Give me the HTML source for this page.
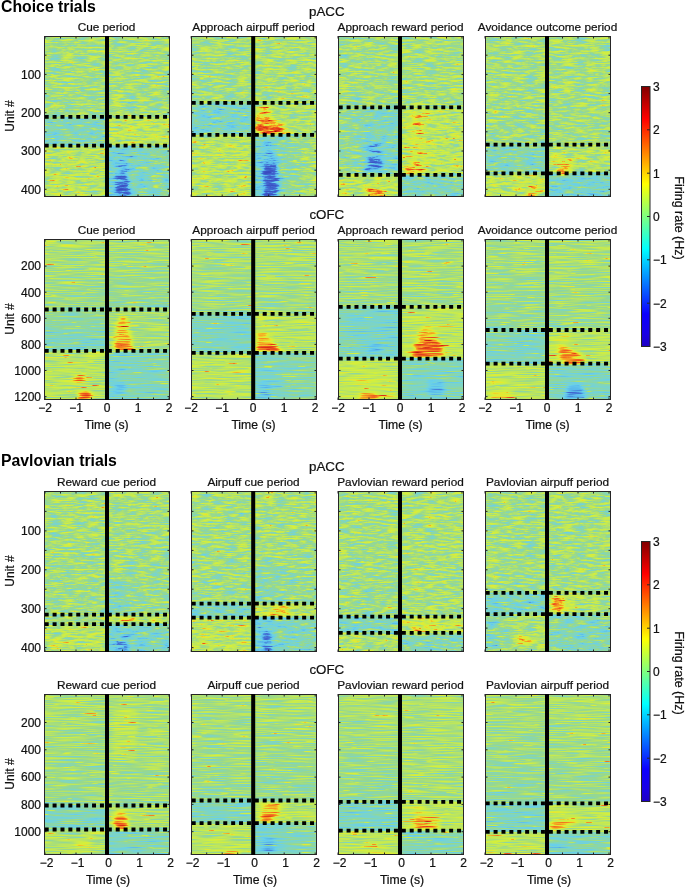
<!DOCTYPE html><html><head><meta charset="utf-8"><style>html,body{margin:0;padding:0;background:#fff;}svg{display:block;will-change:transform}text{font-family:"Liberation Sans",sans-serif;fill:#111;stroke:#111;stroke-width:0.22px}</style></head><body>
<svg width="685" height="888" viewBox="0 0 685 888">
<defs>
<filter id="hA" x="0" y="0" width="1" height="1" filterUnits="objectBoundingBox" color-interpolation-filters="sRGB">
<feGaussianBlur in="SourceGraphic" stdDeviation="2 0.8" result="s"/>
<feTurbulence type="fractalNoise" baseFrequency="0.08 0.55" numOctaves="4" seed="3" result="n"/>
<feColorMatrix in="n" type="matrix" values="1 0 0 0 0 1 0 0 0 0 1 0 0 0 0 0 0 0 0 1" result="nr"/>
<feComposite in="s" in2="nr" operator="arithmetic" k1="0" k2="1" k3="0.52" k4="-0.2600" result="v"/>
<feTurbulence type="fractalNoise" baseFrequency="0.12 0.8" numOctaves="2" seed="14" result="m"/>
<feColorMatrix in="m" type="matrix" values="1 0 0 0 0 1 0 0 0 0 1 0 0 0 0 0 0 0 0 1" result="mr"/>
<feComponentTransfer in="mr" result="sp"><feFuncR type="linear" slope="10" intercept="-7"/><feFuncG type="linear" slope="10" intercept="-7"/><feFuncB type="linear" slope="10" intercept="-7"/></feComponentTransfer>
<feComposite in="v" in2="sp" operator="arithmetic" k1="0" k2="1" k3="0.1" k4="0" result="v1"/>
<feColorMatrix in="v1" type="matrix" values="1 0 0 0 0 1 0 0 0 0 1 0 0 0 0 0 0 0 0 1" result="v2"/>
<feComponentTransfer in="v2"><feFuncR type="table" tableValues="0.227 0.231 0.235 0.239 0.243 0.249 0.255 0.261 0.267 0.280 0.294 0.324 0.353 0.368 0.382 0.397 0.412 0.431 0.451 0.471 0.490 0.515 0.539 0.564 0.588 0.625 0.663 0.700 0.737 0.761 0.784 0.808 0.831 0.875 0.918 0.939 0.961 0.954 0.947 0.940 0.933 0.906 0.878 0.851 0.824 0.745 0.667 0.588 0.510"/><feFuncG type="table" tableValues="0.294 0.307 0.320 0.332 0.345 0.367 0.388 0.410 0.431 0.490 0.549 0.637 0.725 0.748 0.771 0.793 0.816 0.821 0.825 0.830 0.835 0.838 0.841 0.844 0.847 0.861 0.875 0.888 0.902 0.912 0.922 0.931 0.941 0.922 0.902 0.784 0.667 0.583 0.500 0.417 0.333 0.289 0.245 0.201 0.157 0.118 0.078 0.039 0.000"/><feFuncB type="table" tableValues="0.753 0.761 0.769 0.776 0.784 0.796 0.808 0.820 0.831 0.851 0.871 0.896 0.922 0.923 0.924 0.925 0.925 0.888 0.851 0.814 0.776 0.725 0.673 0.621 0.569 0.520 0.471 0.422 0.373 0.338 0.304 0.270 0.235 0.212 0.188 0.163 0.137 0.134 0.131 0.128 0.125 0.116 0.106 0.096 0.086 0.065 0.043 0.022 0.000"/></feComponentTransfer>
</filter>
<filter id="hB" x="0" y="0" width="1" height="1" filterUnits="objectBoundingBox" color-interpolation-filters="sRGB">
<feGaussianBlur in="SourceGraphic" stdDeviation="2 0.8" result="s"/>
<feTurbulence type="fractalNoise" baseFrequency="0.035 0.8" numOctaves="2" seed="7" result="n"/>
<feColorMatrix in="n" type="matrix" values="1 0 0 0 0 1 0 0 0 0 1 0 0 0 0 0 0 0 0 1" result="nr"/>
<feComposite in="s" in2="nr" operator="arithmetic" k1="0" k2="1" k3="0.45" k4="-0.2250" result="v"/>
<feTurbulence type="fractalNoise" baseFrequency="0.05 0.9" numOctaves="2" seed="18" result="m"/>
<feColorMatrix in="m" type="matrix" values="1 0 0 0 0 1 0 0 0 0 1 0 0 0 0 0 0 0 0 1" result="mr"/>
<feComponentTransfer in="mr" result="sp"><feFuncR type="linear" slope="10" intercept="-7"/><feFuncG type="linear" slope="10" intercept="-7"/><feFuncB type="linear" slope="10" intercept="-7"/></feComponentTransfer>
<feComposite in="v" in2="sp" operator="arithmetic" k1="0" k2="1" k3="0.17" k4="0" result="v1"/>
<feColorMatrix in="v1" type="matrix" values="1 0 0 0 0 1 0 0 0 0 1 0 0 0 0 0 0 0 0 1" result="v2"/>
<feComponentTransfer in="v2"><feFuncR type="table" tableValues="0.227 0.231 0.235 0.239 0.243 0.249 0.255 0.261 0.267 0.280 0.294 0.324 0.353 0.368 0.382 0.397 0.412 0.431 0.451 0.471 0.490 0.515 0.539 0.564 0.588 0.625 0.663 0.700 0.737 0.761 0.784 0.808 0.831 0.875 0.918 0.939 0.961 0.954 0.947 0.940 0.933 0.906 0.878 0.851 0.824 0.745 0.667 0.588 0.510"/><feFuncG type="table" tableValues="0.294 0.307 0.320 0.332 0.345 0.367 0.388 0.410 0.431 0.490 0.549 0.637 0.725 0.748 0.771 0.793 0.816 0.821 0.825 0.830 0.835 0.838 0.841 0.844 0.847 0.861 0.875 0.888 0.902 0.912 0.922 0.931 0.941 0.922 0.902 0.784 0.667 0.583 0.500 0.417 0.333 0.289 0.245 0.201 0.157 0.118 0.078 0.039 0.000"/><feFuncB type="table" tableValues="0.753 0.761 0.769 0.776 0.784 0.796 0.808 0.820 0.831 0.851 0.871 0.896 0.922 0.923 0.924 0.925 0.925 0.888 0.851 0.814 0.776 0.725 0.673 0.621 0.569 0.520 0.471 0.422 0.373 0.338 0.304 0.270 0.235 0.212 0.188 0.163 0.137 0.134 0.131 0.128 0.125 0.116 0.106 0.096 0.086 0.065 0.043 0.022 0.000"/></feComponentTransfer>
</filter>
<linearGradient id="jet" x1="0" y1="1" x2="0" y2="0">
<stop offset="0.0000" stop-color="rgb(30,0,195)"/>
<stop offset="0.0500" stop-color="rgb(25,0,230)"/>
<stop offset="0.1250" stop-color="rgb(12,0,255)"/>
<stop offset="0.3750" stop-color="rgb(0,255,255)"/>
<stop offset="0.6250" stop-color="rgb(255,255,0)"/>
<stop offset="0.8750" stop-color="rgb(255,0,0)"/>
<stop offset="1.0000" stop-color="rgb(128,0,0)"/>
</linearGradient>
<clipPath id="c00"><rect x="45" y="37" width="124" height="159"/></clipPath>
<clipPath id="c01"><rect x="192" y="37" width="124" height="159"/></clipPath>
<clipPath id="c02"><rect x="339" y="37" width="124" height="159"/></clipPath>
<clipPath id="c03"><rect x="486" y="37" width="124" height="159"/></clipPath>
<clipPath id="c10"><rect x="45" y="240" width="124" height="159"/></clipPath>
<clipPath id="c11"><rect x="192" y="240" width="124" height="159"/></clipPath>
<clipPath id="c12"><rect x="339" y="240" width="124" height="159"/></clipPath>
<clipPath id="c13"><rect x="486" y="240" width="124" height="159"/></clipPath>
<clipPath id="c20"><rect x="45" y="492" width="124" height="159"/></clipPath>
<clipPath id="c21"><rect x="192" y="492" width="124" height="159"/></clipPath>
<clipPath id="c22"><rect x="339" y="492" width="124" height="159"/></clipPath>
<clipPath id="c23"><rect x="486" y="492" width="124" height="159"/></clipPath>
<clipPath id="c30"><rect x="45" y="695" width="124" height="159"/></clipPath>
<clipPath id="c31"><rect x="192" y="695" width="124" height="159"/></clipPath>
<clipPath id="c32"><rect x="339" y="695" width="124" height="159"/></clipPath>
<clipPath id="c33"><rect x="486" y="695" width="124" height="159"/></clipPath>
</defs>
<g clip-path="url(#c00)"><g filter="url(#hA)">
<rect x="36.0" y="30.0" width="71.0" height="86.8" fill="#888888"/>
<rect x="107.0" y="30.0" width="70.0" height="86.8" fill="#888888"/>
<rect x="36.0" y="116.8" width="71.0" height="28.9" fill="#717171"/>
<rect x="107.0" y="116.8" width="70.0" height="28.9" fill="#979797"/>
<rect x="36.0" y="145.7" width="71.0" height="56.3" fill="#939393"/>
<rect x="107.0" y="145.7" width="70.0" height="56.3" fill="url(#g0)"/>
<rect x="36.0" y="30.0" width="71.0" height="86.8" fill="url(#g1)"/>
<rect x="107.0" y="30.0" width="70.0" height="86.8" fill="url(#g2)"/>
<rect x="120.3" y="150.0" width="4.0" height="1.8" fill="#4e4e4e"/>
<rect x="119.6" y="152.0" width="5.2" height="1.9" fill="#4c4c4c"/>
<rect x="118.8" y="160.0" width="7.5" height="1.4" fill="#474747"/>
<rect x="119.5" y="161.5" width="7.1" height="1.7" fill="#3e3e3e"/>
<rect x="118.6" y="163.0" width="8.6" height="2.0" fill="#464646"/>
<rect x="118.8" y="165.2" width="7.5" height="1.5" fill="#3c3c3c"/>
<rect x="118.3" y="166.8" width="9.4" height="2.0" fill="#3a3a3a"/>
<rect x="118.1" y="168.8" width="10.1" height="1.8" fill="#3b3b3b"/>
<rect x="118.4" y="170.6" width="8.4" height="1.9" fill="#3f3f3f"/>
<rect x="117.6" y="172.2" width="9.5" height="1.4" fill="#323232"/>
<rect x="116.7" y="173.6" width="10.6" height="1.6" fill="#262626"/>
<rect x="116.8" y="175.2" width="11.4" height="1.8" fill="#2d2d2d"/>
<rect x="115.2" y="177.0" width="13.8" height="2.2" fill="#1f1f1f"/>
<rect x="115.2" y="179.4" width="12.2" height="2.0" fill="#252525"/>
<rect x="115.2" y="181.2" width="15.2" height="1.4" fill="#242424"/>
<rect x="114.5" y="182.7" width="15.1" height="1.6" fill="#252525"/>
<rect x="116.1" y="184.2" width="12.6" height="1.8" fill="#171717"/>
<rect x="114.4" y="185.9" width="15.6" height="1.4" fill="#272727"/>
<rect x="115.7" y="187.1" width="14.2" height="1.3" fill="#202020"/>
<rect x="114.5" y="188.3" width="15.8" height="1.6" fill="#141414"/>
<rect x="115.3" y="190.0" width="14.7" height="1.2" fill="#1c1c1c"/>
<rect x="116.1" y="191.1" width="12.3" height="1.8" fill="#1d1d1d"/>
<rect x="115.9" y="193.2" width="13.0" height="2.1" fill="#222222"/>
<rect x="116.1" y="195.6" width="13.2" height="2.1" fill="#181818"/>
</g></g>
<rect x="44.5" y="36.5" width="125" height="160" fill="none" stroke="#262626" stroke-width="1"/>
<line x1="45.0" y1="36" x2="45.0" y2="38.5" stroke="#262626" stroke-width="1"/>
<line x1="45.0" y1="197" x2="45.0" y2="194.5" stroke="#262626" stroke-width="1"/>
<line x1="60.5" y1="36" x2="60.5" y2="38.5" stroke="#262626" stroke-width="1"/>
<line x1="60.5" y1="197" x2="60.5" y2="194.5" stroke="#262626" stroke-width="1"/>
<line x1="76.0" y1="36" x2="76.0" y2="38.5" stroke="#262626" stroke-width="1"/>
<line x1="76.0" y1="197" x2="76.0" y2="194.5" stroke="#262626" stroke-width="1"/>
<line x1="91.5" y1="36" x2="91.5" y2="38.5" stroke="#262626" stroke-width="1"/>
<line x1="91.5" y1="197" x2="91.5" y2="194.5" stroke="#262626" stroke-width="1"/>
<line x1="107.0" y1="36" x2="107.0" y2="38.5" stroke="#262626" stroke-width="1"/>
<line x1="107.0" y1="197" x2="107.0" y2="194.5" stroke="#262626" stroke-width="1"/>
<line x1="122.5" y1="36" x2="122.5" y2="38.5" stroke="#262626" stroke-width="1"/>
<line x1="122.5" y1="197" x2="122.5" y2="194.5" stroke="#262626" stroke-width="1"/>
<line x1="138.0" y1="36" x2="138.0" y2="38.5" stroke="#262626" stroke-width="1"/>
<line x1="138.0" y1="197" x2="138.0" y2="194.5" stroke="#262626" stroke-width="1"/>
<line x1="153.5" y1="36" x2="153.5" y2="38.5" stroke="#262626" stroke-width="1"/>
<line x1="153.5" y1="197" x2="153.5" y2="194.5" stroke="#262626" stroke-width="1"/>
<line x1="169.0" y1="36" x2="169.0" y2="38.5" stroke="#262626" stroke-width="1"/>
<line x1="169.0" y1="197" x2="169.0" y2="194.5" stroke="#262626" stroke-width="1"/>
<line x1="44" y1="55.2" x2="46.5" y2="55.2" stroke="#262626" stroke-width="1"/>
<line x1="170" y1="55.2" x2="167.5" y2="55.2" stroke="#262626" stroke-width="1"/>
<line x1="44" y1="74.4" x2="46.5" y2="74.4" stroke="#262626" stroke-width="1"/>
<line x1="170" y1="74.4" x2="167.5" y2="74.4" stroke="#262626" stroke-width="1"/>
<line x1="44" y1="93.6" x2="46.5" y2="93.6" stroke="#262626" stroke-width="1"/>
<line x1="170" y1="93.6" x2="167.5" y2="93.6" stroke="#262626" stroke-width="1"/>
<line x1="44" y1="112.7" x2="46.5" y2="112.7" stroke="#262626" stroke-width="1"/>
<line x1="170" y1="112.7" x2="167.5" y2="112.7" stroke="#262626" stroke-width="1"/>
<line x1="44" y1="131.8" x2="46.5" y2="131.8" stroke="#262626" stroke-width="1"/>
<line x1="170" y1="131.8" x2="167.5" y2="131.8" stroke="#262626" stroke-width="1"/>
<line x1="44" y1="151.0" x2="46.5" y2="151.0" stroke="#262626" stroke-width="1"/>
<line x1="170" y1="151.0" x2="167.5" y2="151.0" stroke="#262626" stroke-width="1"/>
<line x1="44" y1="170.2" x2="46.5" y2="170.2" stroke="#262626" stroke-width="1"/>
<line x1="170" y1="170.2" x2="167.5" y2="170.2" stroke="#262626" stroke-width="1"/>
<line x1="44" y1="189.3" x2="46.5" y2="189.3" stroke="#262626" stroke-width="1"/>
<line x1="170" y1="189.3" x2="167.5" y2="189.3" stroke="#262626" stroke-width="1"/>
<rect x="105" y="36" width="4" height="161" fill="#000"/>
<line x1="44.7" y1="116.8" x2="169" y2="116.8" stroke="#000" stroke-width="3.8" stroke-dasharray="4 3.89"/>
<line x1="44.7" y1="145.7" x2="169" y2="145.7" stroke="#000" stroke-width="3.8" stroke-dasharray="4 3.89"/>
<text x="106.5" y="30.8" font-size="11.8" text-anchor="middle">Cue period</text>
<text x="41" y="78.7" font-size="12" text-anchor="end">100</text>
<text x="41" y="117.0" font-size="12" text-anchor="end">200</text>
<text x="41" y="155.3" font-size="12" text-anchor="end">300</text>
<text x="41" y="193.6" font-size="12" text-anchor="end">400</text>
<text x="14" y="116.0" font-size="12" text-anchor="middle" transform="rotate(-90 14 116.0)">Unit #</text>
<g clip-path="url(#c01)"><g filter="url(#hA)">
<rect x="183.0" y="30.0" width="70.2" height="72.9" fill="#888888"/>
<rect x="253.2" y="30.0" width="70.8" height="72.9" fill="#8c8c8c"/>
<rect x="183.0" y="102.9" width="70.2" height="31.9" fill="#6a6a6a"/>
<rect x="253.2" y="102.9" width="70.8" height="31.9" fill="#8e8e8e"/>
<rect x="183.0" y="134.8" width="70.2" height="67.2" fill="#939393"/>
<rect x="253.2" y="134.8" width="70.8" height="67.2" fill="url(#g3)"/>
<rect x="183.0" y="30.0" width="70.2" height="72.9" fill="url(#g1)"/>
<rect x="253.2" y="30.0" width="70.8" height="72.9" fill="url(#g4)"/>
<rect x="257.6" y="106.0" width="10.5" height="2.0" fill="#b4b4b4"/>
<rect x="258.5" y="107.7" width="9.5" height="1.5" fill="#b9b9b9"/>
<rect x="258.2" y="109.3" width="10.3" height="1.5" fill="#bbbbbb"/>
<rect x="257.8" y="110.7" width="10.9" height="1.7" fill="#bababa"/>
<rect x="255.9" y="112.2" width="13.5" height="1.7" fill="#bdbdbd"/>
<rect x="256.5" y="113.8" width="14.5" height="1.4" fill="#b7b7b7"/>
<rect x="255.5" y="115.1" width="15.8" height="2.2" fill="#bcbcbc"/>
<rect x="256.3" y="117.1" width="15.6" height="1.4" fill="#bbbbbb"/>
<rect x="254.6" y="118.4" width="18.1" height="1.3" fill="#c7c7c7"/>
<rect x="256.8" y="119.8" width="17.8" height="1.3" fill="#c0c0c0"/>
<rect x="255.4" y="120.9" width="21.2" height="2.1" fill="#cbcbcb"/>
<rect x="257.0" y="123.3" width="21.0" height="1.4" fill="#cccccc"/>
<rect x="256.8" y="124.6" width="27.1" height="1.9" fill="#cacaca"/>
<rect x="253.5" y="126.5" width="31.5" height="1.5" fill="#d1d1d1"/>
<rect x="256.0" y="128.0" width="27.5" height="1.6" fill="#dfdfdf"/>
<rect x="254.0" y="129.6" width="30.4" height="2.1" fill="#e0e0e0"/>
<rect x="255.4" y="131.9" width="34.6" height="1.1" fill="#cfcfcf"/>
<rect x="254.7" y="133.0" width="30.1" height="1.4" fill="#d2d2d2"/>
<rect x="263.8" y="145.0" width="10.2" height="1.5" fill="#585858"/>
<rect x="264.3" y="146.7" width="10.3" height="2.2" fill="#595959"/>
<rect x="263.7" y="148.7" width="11.3" height="2.2" fill="#515151"/>
<rect x="264.0" y="150.6" width="11.8" height="1.8" fill="#555555"/>
<rect x="264.0" y="152.6" width="11.5" height="1.3" fill="#4e4e4e"/>
<rect x="261.9" y="153.8" width="14.8" height="1.3" fill="#4e4e4e"/>
<rect x="262.7" y="155.2" width="14.2" height="1.6" fill="#494949"/>
<rect x="263.0" y="156.7" width="13.3" height="1.9" fill="#4a4a4a"/>
<rect x="261.1" y="158.5" width="16.3" height="1.5" fill="#484848"/>
<rect x="262.9" y="160.2" width="13.6" height="2.2" fill="#3d3d3d"/>
<rect x="261.3" y="162.7" width="17.8" height="2.1" fill="#303030"/>
<rect x="263.2" y="165.0" width="16.5" height="1.9" fill="#222222"/>
<rect x="263.3" y="166.6" width="15.0" height="2.0" fill="#191919"/>
<rect x="263.6" y="168.4" width="14.1" height="1.3" fill="#222222"/>
<rect x="263.5" y="169.8" width="14.6" height="1.9" fill="#202020"/>
<rect x="260.9" y="171.7" width="17.6" height="2.1" fill="#1c1c1c"/>
<rect x="262.3" y="173.6" width="17.1" height="1.2" fill="#202020"/>
<rect x="261.9" y="174.9" width="15.5" height="1.8" fill="#242424"/>
<rect x="263.3" y="176.9" width="15.9" height="2.1" fill="#191919"/>
<rect x="264.1" y="178.8" width="14.8" height="1.3" fill="#141414"/>
<rect x="263.1" y="180.2" width="14.3" height="2.1" fill="#232323"/>
<rect x="263.4" y="182.5" width="15.1" height="2.1" fill="#222222"/>
<rect x="262.6" y="184.9" width="17.6" height="2.1" fill="#121212"/>
<rect x="264.4" y="186.6" width="14.6" height="1.9" fill="#141414"/>
<rect x="264.3" y="188.8" width="14.2" height="2.0" fill="#232323"/>
<rect x="264.5" y="191.0" width="14.0" height="2.1" fill="#1b1b1b"/>
<rect x="263.1" y="192.9" width="13.9" height="2.0" fill="#212121"/>
<rect x="262.0" y="194.8" width="17.2" height="1.2" fill="#181818"/>
<rect x="264.2" y="196.0" width="15.2" height="2.2" fill="#232323"/>
</g></g>
<rect x="191.5" y="36.5" width="125" height="160" fill="none" stroke="#262626" stroke-width="1"/>
<line x1="191.2" y1="36" x2="191.2" y2="38.5" stroke="#262626" stroke-width="1"/>
<line x1="191.2" y1="197" x2="191.2" y2="194.5" stroke="#262626" stroke-width="1"/>
<line x1="206.7" y1="36" x2="206.7" y2="38.5" stroke="#262626" stroke-width="1"/>
<line x1="206.7" y1="197" x2="206.7" y2="194.5" stroke="#262626" stroke-width="1"/>
<line x1="222.2" y1="36" x2="222.2" y2="38.5" stroke="#262626" stroke-width="1"/>
<line x1="222.2" y1="197" x2="222.2" y2="194.5" stroke="#262626" stroke-width="1"/>
<line x1="237.7" y1="36" x2="237.7" y2="38.5" stroke="#262626" stroke-width="1"/>
<line x1="237.7" y1="197" x2="237.7" y2="194.5" stroke="#262626" stroke-width="1"/>
<line x1="253.2" y1="36" x2="253.2" y2="38.5" stroke="#262626" stroke-width="1"/>
<line x1="253.2" y1="197" x2="253.2" y2="194.5" stroke="#262626" stroke-width="1"/>
<line x1="268.7" y1="36" x2="268.7" y2="38.5" stroke="#262626" stroke-width="1"/>
<line x1="268.7" y1="197" x2="268.7" y2="194.5" stroke="#262626" stroke-width="1"/>
<line x1="284.2" y1="36" x2="284.2" y2="38.5" stroke="#262626" stroke-width="1"/>
<line x1="284.2" y1="197" x2="284.2" y2="194.5" stroke="#262626" stroke-width="1"/>
<line x1="299.7" y1="36" x2="299.7" y2="38.5" stroke="#262626" stroke-width="1"/>
<line x1="299.7" y1="197" x2="299.7" y2="194.5" stroke="#262626" stroke-width="1"/>
<line x1="315.2" y1="36" x2="315.2" y2="38.5" stroke="#262626" stroke-width="1"/>
<line x1="315.2" y1="197" x2="315.2" y2="194.5" stroke="#262626" stroke-width="1"/>
<line x1="191" y1="55.2" x2="193.5" y2="55.2" stroke="#262626" stroke-width="1"/>
<line x1="317" y1="55.2" x2="314.5" y2="55.2" stroke="#262626" stroke-width="1"/>
<line x1="191" y1="74.4" x2="193.5" y2="74.4" stroke="#262626" stroke-width="1"/>
<line x1="317" y1="74.4" x2="314.5" y2="74.4" stroke="#262626" stroke-width="1"/>
<line x1="191" y1="93.6" x2="193.5" y2="93.6" stroke="#262626" stroke-width="1"/>
<line x1="317" y1="93.6" x2="314.5" y2="93.6" stroke="#262626" stroke-width="1"/>
<line x1="191" y1="112.7" x2="193.5" y2="112.7" stroke="#262626" stroke-width="1"/>
<line x1="317" y1="112.7" x2="314.5" y2="112.7" stroke="#262626" stroke-width="1"/>
<line x1="191" y1="131.8" x2="193.5" y2="131.8" stroke="#262626" stroke-width="1"/>
<line x1="317" y1="131.8" x2="314.5" y2="131.8" stroke="#262626" stroke-width="1"/>
<line x1="191" y1="151.0" x2="193.5" y2="151.0" stroke="#262626" stroke-width="1"/>
<line x1="317" y1="151.0" x2="314.5" y2="151.0" stroke="#262626" stroke-width="1"/>
<line x1="191" y1="170.2" x2="193.5" y2="170.2" stroke="#262626" stroke-width="1"/>
<line x1="317" y1="170.2" x2="314.5" y2="170.2" stroke="#262626" stroke-width="1"/>
<line x1="191" y1="189.3" x2="193.5" y2="189.3" stroke="#262626" stroke-width="1"/>
<line x1="317" y1="189.3" x2="314.5" y2="189.3" stroke="#262626" stroke-width="1"/>
<rect x="251.2" y="36" width="4" height="161" fill="#000"/>
<line x1="191.7" y1="102.9" x2="316" y2="102.9" stroke="#000" stroke-width="3.8" stroke-dasharray="4 3.89"/>
<line x1="191.7" y1="134.8" x2="316" y2="134.8" stroke="#000" stroke-width="3.8" stroke-dasharray="4 3.89"/>
<text x="253.5" y="30.8" font-size="11.8" text-anchor="middle">Approach airpuff period</text>
<g clip-path="url(#c02)"><g filter="url(#hA)">
<rect x="330.0" y="30.0" width="70.0" height="77.3" fill="#888888"/>
<rect x="400.0" y="30.0" width="71.0" height="77.3" fill="#888888"/>
<rect x="330.0" y="107.3" width="70.0" height="67.6" fill="url(#g5)"/>
<rect x="400.0" y="107.3" width="71.0" height="67.6" fill="#959595"/>
<rect x="330.0" y="174.9" width="70.0" height="27.1" fill="#959595"/>
<rect x="400.0" y="174.9" width="71.0" height="27.1" fill="#6e6e6e"/>
<rect x="330.0" y="30.0" width="70.0" height="77.3" fill="url(#g6)"/>
<rect x="400.0" y="30.0" width="71.0" height="77.3" fill="url(#g7)"/>
<rect x="362.0" y="135.0" width="36.0" height="37.0" fill="url(#g8)"/>
<rect x="374.6" y="114.0" width="6.4" height="1.4" fill="#444444"/>
<rect x="375.4" y="115.4" width="5.3" height="1.9" fill="#3f3f3f"/>
<rect x="369.3" y="143.0" width="12.2" height="1.8" fill="#424242"/>
<rect x="369.0" y="145.0" width="12.7" height="1.0" fill="#363636"/>
<rect x="368.8" y="146.0" width="11.9" height="1.3" fill="#3a3a3a"/>
<rect x="368.5" y="150.0" width="12.4" height="1.9" fill="#343434"/>
<rect x="369.0" y="151.9" width="11.7" height="1.1" fill="#2c2c2c"/>
<rect x="366.8" y="157.0" width="15.6" height="2.1" fill="#2a2a2a"/>
<rect x="367.8" y="158.8" width="14.7" height="1.5" fill="#272727"/>
<rect x="368.1" y="160.3" width="13.8" height="1.6" fill="#222222"/>
<rect x="368.4" y="162.0" width="13.2" height="1.4" fill="#262626"/>
<rect x="367.2" y="163.3" width="16.2" height="2.0" fill="#2d2d2d"/>
<rect x="368.0" y="165.2" width="13.9" height="1.2" fill="#212121"/>
<rect x="366.6" y="166.3" width="15.6" height="1.6" fill="#242424"/>
<rect x="366.2" y="167.9" width="15.7" height="1.4" fill="#222222"/>
<rect x="408.0" y="110.0" width="18.4" height="1.3" fill="#a7a7a7"/>
<rect x="410.1" y="111.3" width="17.4" height="1.3" fill="#a4a4a4"/>
<rect x="407.5" y="112.7" width="21.5" height="1.9" fill="#a7a7a7"/>
<rect x="408.0" y="114.8" width="20.0" height="1.8" fill="#a6a6a6"/>
<rect x="407.9" y="116.6" width="20.2" height="2.1" fill="#a2a2a2"/>
<rect x="407.9" y="118.5" width="20.3" height="1.8" fill="#a5a5a5"/>
<rect x="408.7" y="120.3" width="17.6" height="1.3" fill="#a2a2a2"/>
<rect x="409.8" y="121.5" width="17.3" height="1.3" fill="#a5a5a5"/>
<rect x="408.3" y="122.7" width="19.0" height="1.6" fill="#a2a2a2"/>
<rect x="408.8" y="124.3" width="19.3" height="2.1" fill="#a7a7a7"/>
<rect x="409.6" y="126.6" width="16.0" height="1.6" fill="#a6a6a6"/>
<rect x="409.4" y="128.3" width="18.3" height="2.2" fill="#a4a4a4"/>
<rect x="409.2" y="130.5" width="17.2" height="1.4" fill="#a0a0a0"/>
<rect x="408.1" y="131.9" width="18.3" height="1.9" fill="#a4a4a4"/>
<rect x="409.7" y="133.5" width="16.2" height="1.8" fill="#a4a4a4"/>
<rect x="409.5" y="135.1" width="16.8" height="1.8" fill="#a0a0a0"/>
<rect x="409.7" y="136.9" width="17.8" height="1.4" fill="#a3a3a3"/>
<rect x="408.3" y="138.4" width="17.4" height="2.0" fill="#a0a0a0"/>
<rect x="409.4" y="140.5" width="18.0" height="2.2" fill="#a6a6a6"/>
<rect x="406.6" y="142.8" width="21.3" height="2.0" fill="#a0a0a0"/>
<rect x="408.3" y="144.5" width="19.7" height="1.3" fill="#a2a2a2"/>
<rect x="409.8" y="145.9" width="16.9" height="2.0" fill="#a6a6a6"/>
<rect x="406.4" y="147.6" width="21.4" height="2.0" fill="#a0a0a0"/>
<rect x="407.1" y="149.6" width="21.4" height="1.9" fill="#a5a5a5"/>
<rect x="407.3" y="151.2" width="19.5" height="1.9" fill="#a6a6a6"/>
<rect x="410.8" y="153.3" width="16.7" height="1.8" fill="#a6a6a6"/>
<rect x="409.0" y="155.0" width="18.1" height="1.6" fill="#a3a3a3"/>
<rect x="410.8" y="156.8" width="16.6" height="2.0" fill="#a5a5a5"/>
<rect x="409.3" y="159.0" width="18.4" height="1.9" fill="#a7a7a7"/>
<rect x="408.5" y="160.8" width="19.0" height="2.0" fill="#a3a3a3"/>
<rect x="408.4" y="162.9" width="20.8" height="1.5" fill="#a1a1a1"/>
<rect x="409.0" y="164.6" width="18.6" height="1.4" fill="#a3a3a3"/>
<rect x="408.8" y="165.8" width="17.0" height="2.1" fill="#a6a6a6"/>
<rect x="407.5" y="167.8" width="19.9" height="2.1" fill="#a0a0a0"/>
<rect x="408.0" y="170.1" width="20.0" height="1.3" fill="#a6a6a6"/>
<rect x="409.3" y="171.5" width="18.7" height="1.8" fill="#a1a1a1"/>
<rect x="418.7" y="113.0" width="8.9" height="1.9" fill="#b8b8b8"/>
<rect x="417.8" y="114.9" width="10.1" height="1.1" fill="#bababa"/>
<rect x="418.5" y="115.9" width="8.3" height="1.5" fill="#b3b3b3"/>
<rect x="412.4" y="124.0" width="8.5" height="2.0" fill="#b4b4b4"/>
<rect x="410.0" y="138.0" width="9.5" height="2.0" fill="#b0b0b0"/>
<rect x="410.2" y="139.8" width="8.5" height="1.4" fill="#b4b4b4"/>
<rect x="405.8" y="160.0" width="16.2" height="2.2" fill="#acacac"/>
<rect x="404.8" y="162.4" width="18.6" height="1.7" fill="#b3b3b3"/>
<rect x="407.7" y="164.1" width="15.0" height="1.4" fill="#b5b5b5"/>
<rect x="407.0" y="165.6" width="15.5" height="1.6" fill="#b2b2b2"/>
<rect x="407.3" y="167.0" width="16.7" height="1.8" fill="#b5b5b5"/>
<rect x="404.6" y="168.9" width="19.0" height="1.8" fill="#bdbdbd"/>
<rect x="406.4" y="170.7" width="19.1" height="1.6" fill="#bebebe"/>
<rect x="406.8" y="172.4" width="18.2" height="1.8" fill="#bfbfbf"/>
<rect x="365.8" y="181.0" width="16.9" height="1.9" fill="#a1a1a1"/>
<rect x="364.8" y="182.6" width="19.3" height="1.4" fill="#a2a2a2"/>
<rect x="367.9" y="189.0" width="14.8" height="1.9" fill="#cacaca"/>
<rect x="367.7" y="191.1" width="16.3" height="1.8" fill="#c7c7c7"/>
<rect x="366.6" y="192.9" width="18.0" height="1.8" fill="#c4c4c4"/>
<rect x="366.3" y="194.6" width="17.8" height="1.4" fill="#cacaca"/>
<rect x="367.0" y="195.8" width="17.9" height="1.9" fill="#d0d0d0"/>
</g></g>
<rect x="338.5" y="36.5" width="125" height="160" fill="none" stroke="#262626" stroke-width="1"/>
<line x1="338.0" y1="36" x2="338.0" y2="38.5" stroke="#262626" stroke-width="1"/>
<line x1="338.0" y1="197" x2="338.0" y2="194.5" stroke="#262626" stroke-width="1"/>
<line x1="353.5" y1="36" x2="353.5" y2="38.5" stroke="#262626" stroke-width="1"/>
<line x1="353.5" y1="197" x2="353.5" y2="194.5" stroke="#262626" stroke-width="1"/>
<line x1="369.0" y1="36" x2="369.0" y2="38.5" stroke="#262626" stroke-width="1"/>
<line x1="369.0" y1="197" x2="369.0" y2="194.5" stroke="#262626" stroke-width="1"/>
<line x1="384.5" y1="36" x2="384.5" y2="38.5" stroke="#262626" stroke-width="1"/>
<line x1="384.5" y1="197" x2="384.5" y2="194.5" stroke="#262626" stroke-width="1"/>
<line x1="400.0" y1="36" x2="400.0" y2="38.5" stroke="#262626" stroke-width="1"/>
<line x1="400.0" y1="197" x2="400.0" y2="194.5" stroke="#262626" stroke-width="1"/>
<line x1="415.5" y1="36" x2="415.5" y2="38.5" stroke="#262626" stroke-width="1"/>
<line x1="415.5" y1="197" x2="415.5" y2="194.5" stroke="#262626" stroke-width="1"/>
<line x1="431.0" y1="36" x2="431.0" y2="38.5" stroke="#262626" stroke-width="1"/>
<line x1="431.0" y1="197" x2="431.0" y2="194.5" stroke="#262626" stroke-width="1"/>
<line x1="446.5" y1="36" x2="446.5" y2="38.5" stroke="#262626" stroke-width="1"/>
<line x1="446.5" y1="197" x2="446.5" y2="194.5" stroke="#262626" stroke-width="1"/>
<line x1="462.0" y1="36" x2="462.0" y2="38.5" stroke="#262626" stroke-width="1"/>
<line x1="462.0" y1="197" x2="462.0" y2="194.5" stroke="#262626" stroke-width="1"/>
<line x1="338" y1="55.2" x2="340.5" y2="55.2" stroke="#262626" stroke-width="1"/>
<line x1="464" y1="55.2" x2="461.5" y2="55.2" stroke="#262626" stroke-width="1"/>
<line x1="338" y1="74.4" x2="340.5" y2="74.4" stroke="#262626" stroke-width="1"/>
<line x1="464" y1="74.4" x2="461.5" y2="74.4" stroke="#262626" stroke-width="1"/>
<line x1="338" y1="93.6" x2="340.5" y2="93.6" stroke="#262626" stroke-width="1"/>
<line x1="464" y1="93.6" x2="461.5" y2="93.6" stroke="#262626" stroke-width="1"/>
<line x1="338" y1="112.7" x2="340.5" y2="112.7" stroke="#262626" stroke-width="1"/>
<line x1="464" y1="112.7" x2="461.5" y2="112.7" stroke="#262626" stroke-width="1"/>
<line x1="338" y1="131.8" x2="340.5" y2="131.8" stroke="#262626" stroke-width="1"/>
<line x1="464" y1="131.8" x2="461.5" y2="131.8" stroke="#262626" stroke-width="1"/>
<line x1="338" y1="151.0" x2="340.5" y2="151.0" stroke="#262626" stroke-width="1"/>
<line x1="464" y1="151.0" x2="461.5" y2="151.0" stroke="#262626" stroke-width="1"/>
<line x1="338" y1="170.2" x2="340.5" y2="170.2" stroke="#262626" stroke-width="1"/>
<line x1="464" y1="170.2" x2="461.5" y2="170.2" stroke="#262626" stroke-width="1"/>
<line x1="338" y1="189.3" x2="340.5" y2="189.3" stroke="#262626" stroke-width="1"/>
<line x1="464" y1="189.3" x2="461.5" y2="189.3" stroke="#262626" stroke-width="1"/>
<rect x="398" y="36" width="4" height="161" fill="#000"/>
<line x1="338.7" y1="107.3" x2="463" y2="107.3" stroke="#000" stroke-width="3.8" stroke-dasharray="4 3.89"/>
<line x1="338.7" y1="174.9" x2="463" y2="174.9" stroke="#000" stroke-width="3.8" stroke-dasharray="4 3.89"/>
<text x="400.5" y="30.8" font-size="11.8" text-anchor="middle">Approach reward period</text>
<g clip-path="url(#c03)"><g filter="url(#hA)">
<rect x="477.0" y="30.0" width="70.0" height="114.7" fill="#888888"/>
<rect x="547.0" y="30.0" width="71.0" height="114.7" fill="#888888"/>
<rect x="477.0" y="144.7" width="70.0" height="28.6" fill="#737373"/>
<rect x="547.0" y="144.7" width="71.0" height="28.6" fill="#909090"/>
<rect x="477.0" y="173.3" width="70.0" height="28.7" fill="url(#g9)"/>
<rect x="547.0" y="173.3" width="71.0" height="28.7" fill="#666666"/>
<rect x="477.0" y="30.0" width="70.0" height="114.7" fill="url(#g10)"/>
<rect x="547.0" y="30.0" width="71.0" height="114.7" fill="url(#g2)"/>
<rect x="559.6" y="158.0" width="14.6" height="1.3" fill="#aaaaaa"/>
<rect x="558.1" y="159.2" width="18.4" height="1.3" fill="#aeaeae"/>
<rect x="557.6" y="160.7" width="16.0" height="2.2" fill="#ababab"/>
<rect x="558.9" y="163.0" width="14.4" height="1.7" fill="#afafaf"/>
<rect x="557.9" y="164.7" width="12.4" height="1.8" fill="#b5b5b5"/>
<rect x="558.0" y="166.5" width="12.0" height="1.9" fill="#c1c1c1"/>
<rect x="558.8" y="168.2" width="10.0" height="2.1" fill="#c4c4c4"/>
<rect x="558.6" y="170.3" width="9.1" height="1.5" fill="#cbcbcb"/>
<rect x="559.1" y="172.0" width="7.4" height="1.9" fill="#cacaca"/>
<rect x="559.3" y="173.8" width="6.9" height="2.0" fill="#cecece"/>
<rect x="528.5" y="180.0" width="7.4" height="2.1" fill="#a8a8a8"/>
<rect x="528.2" y="182.4" width="7.5" height="1.8" fill="#aeaeae"/>
<rect x="528.1" y="184.3" width="9.8" height="1.3" fill="#aeaeae"/>
<rect x="528.5" y="185.4" width="8.8" height="2.0" fill="#afafaf"/>
<rect x="527.3" y="187.3" width="10.6" height="2.0" fill="#b0b0b0"/>
<rect x="528.8" y="189.3" width="9.7" height="2.1" fill="#b4b4b4"/>
<rect x="529.0" y="191.2" width="9.9" height="2.0" fill="#b2b2b2"/>
<rect x="528.8" y="193.4" width="10.0" height="1.5" fill="#b8b8b8"/>
<rect x="528.1" y="194.9" width="11.2" height="1.1" fill="#b4b4b4"/>
<rect x="530.1" y="188.0" width="5.3" height="1.7" fill="#c3c3c3"/>
<rect x="529.6" y="189.7" width="6.1" height="1.4" fill="#c3c3c3"/>
</g></g>
<rect x="485.5" y="36.5" width="125" height="160" fill="none" stroke="#262626" stroke-width="1"/>
<line x1="485.0" y1="36" x2="485.0" y2="38.5" stroke="#262626" stroke-width="1"/>
<line x1="485.0" y1="197" x2="485.0" y2="194.5" stroke="#262626" stroke-width="1"/>
<line x1="500.5" y1="36" x2="500.5" y2="38.5" stroke="#262626" stroke-width="1"/>
<line x1="500.5" y1="197" x2="500.5" y2="194.5" stroke="#262626" stroke-width="1"/>
<line x1="516.0" y1="36" x2="516.0" y2="38.5" stroke="#262626" stroke-width="1"/>
<line x1="516.0" y1="197" x2="516.0" y2="194.5" stroke="#262626" stroke-width="1"/>
<line x1="531.5" y1="36" x2="531.5" y2="38.5" stroke="#262626" stroke-width="1"/>
<line x1="531.5" y1="197" x2="531.5" y2="194.5" stroke="#262626" stroke-width="1"/>
<line x1="547.0" y1="36" x2="547.0" y2="38.5" stroke="#262626" stroke-width="1"/>
<line x1="547.0" y1="197" x2="547.0" y2="194.5" stroke="#262626" stroke-width="1"/>
<line x1="562.5" y1="36" x2="562.5" y2="38.5" stroke="#262626" stroke-width="1"/>
<line x1="562.5" y1="197" x2="562.5" y2="194.5" stroke="#262626" stroke-width="1"/>
<line x1="578.0" y1="36" x2="578.0" y2="38.5" stroke="#262626" stroke-width="1"/>
<line x1="578.0" y1="197" x2="578.0" y2="194.5" stroke="#262626" stroke-width="1"/>
<line x1="593.5" y1="36" x2="593.5" y2="38.5" stroke="#262626" stroke-width="1"/>
<line x1="593.5" y1="197" x2="593.5" y2="194.5" stroke="#262626" stroke-width="1"/>
<line x1="609.0" y1="36" x2="609.0" y2="38.5" stroke="#262626" stroke-width="1"/>
<line x1="609.0" y1="197" x2="609.0" y2="194.5" stroke="#262626" stroke-width="1"/>
<line x1="485" y1="55.2" x2="487.5" y2="55.2" stroke="#262626" stroke-width="1"/>
<line x1="611" y1="55.2" x2="608.5" y2="55.2" stroke="#262626" stroke-width="1"/>
<line x1="485" y1="74.4" x2="487.5" y2="74.4" stroke="#262626" stroke-width="1"/>
<line x1="611" y1="74.4" x2="608.5" y2="74.4" stroke="#262626" stroke-width="1"/>
<line x1="485" y1="93.6" x2="487.5" y2="93.6" stroke="#262626" stroke-width="1"/>
<line x1="611" y1="93.6" x2="608.5" y2="93.6" stroke="#262626" stroke-width="1"/>
<line x1="485" y1="112.7" x2="487.5" y2="112.7" stroke="#262626" stroke-width="1"/>
<line x1="611" y1="112.7" x2="608.5" y2="112.7" stroke="#262626" stroke-width="1"/>
<line x1="485" y1="131.8" x2="487.5" y2="131.8" stroke="#262626" stroke-width="1"/>
<line x1="611" y1="131.8" x2="608.5" y2="131.8" stroke="#262626" stroke-width="1"/>
<line x1="485" y1="151.0" x2="487.5" y2="151.0" stroke="#262626" stroke-width="1"/>
<line x1="611" y1="151.0" x2="608.5" y2="151.0" stroke="#262626" stroke-width="1"/>
<line x1="485" y1="170.2" x2="487.5" y2="170.2" stroke="#262626" stroke-width="1"/>
<line x1="611" y1="170.2" x2="608.5" y2="170.2" stroke="#262626" stroke-width="1"/>
<line x1="485" y1="189.3" x2="487.5" y2="189.3" stroke="#262626" stroke-width="1"/>
<line x1="611" y1="189.3" x2="608.5" y2="189.3" stroke="#262626" stroke-width="1"/>
<rect x="545" y="36" width="4" height="161" fill="#000"/>
<line x1="485.7" y1="144.7" x2="610" y2="144.7" stroke="#000" stroke-width="3.8" stroke-dasharray="4 3.89"/>
<line x1="485.7" y1="173.3" x2="610" y2="173.3" stroke="#000" stroke-width="3.8" stroke-dasharray="4 3.89"/>
<text x="547.5" y="30.8" font-size="11.8" text-anchor="middle">Avoidance outcome period</text>
<g clip-path="url(#c10)"><g filter="url(#hB)">
<rect x="36.0" y="233.0" width="71.0" height="76.5" fill="#8a8a8a"/>
<rect x="107.0" y="233.0" width="70.0" height="76.5" fill="#868686"/>
<rect x="36.0" y="309.5" width="71.0" height="41.4" fill="#717171"/>
<rect x="107.0" y="309.5" width="70.0" height="41.4" fill="#888888"/>
<rect x="36.0" y="350.9" width="71.0" height="54.1" fill="#939393"/>
<rect x="107.0" y="350.9" width="70.0" height="54.1" fill="url(#g11)"/>
<rect x="36.0" y="233.0" width="71.0" height="76.5" fill="url(#g12)"/>
<rect x="107.0" y="233.0" width="70.0" height="76.5" fill="url(#g13)"/>
<rect x="30.0" y="310.0" width="77.0" height="18.0" fill="url(#g14)"/>
<rect x="80.0" y="338.0" width="27.0" height="13.0" fill="#666666"/>
<rect x="119.5" y="316.0" width="7.3" height="2.0" fill="#cdcdcd"/>
<rect x="119.1" y="318.3" width="7.7" height="1.7" fill="#c6c6c6"/>
<rect x="118.1" y="320.2" width="10.0" height="2.1" fill="#c2c2c2"/>
<rect x="116.5" y="322.4" width="12.1" height="1.6" fill="#bfbfbf"/>
<rect x="116.5" y="324.2" width="13.4" height="1.5" fill="#c2c2c2"/>
<rect x="116.2" y="325.9" width="13.0" height="2.1" fill="#bfbfbf"/>
<rect x="116.0" y="328.2" width="12.4" height="2.1" fill="#bfbfbf"/>
<rect x="114.7" y="330.5" width="16.3" height="2.2" fill="#b9b9b9"/>
<rect x="115.5" y="332.8" width="15.8" height="2.1" fill="#c5c5c5"/>
<rect x="114.9" y="334.6" width="15.7" height="2.0" fill="#bbbbbb"/>
<rect x="112.9" y="336.6" width="18.9" height="1.8" fill="#bcbcbc"/>
<rect x="115.9" y="338.5" width="16.5" height="1.8" fill="#bfbfbf"/>
<rect x="113.6" y="340.3" width="17.1" height="1.5" fill="#cbcbcb"/>
<rect x="114.7" y="342.0" width="17.0" height="1.9" fill="#c6c6c6"/>
<rect x="113.3" y="343.9" width="19.0" height="1.8" fill="#d0d0d0"/>
<rect x="113.0" y="345.6" width="19.9" height="1.6" fill="#cfcfcf"/>
<rect x="115.5" y="347.2" width="19.3" height="2.2" fill="#d4d4d4"/>
<rect x="113.8" y="349.2" width="22.5" height="1.8" fill="#cecece"/>
<rect x="73.5" y="376.0" width="10.5" height="1.7" fill="#cdcdcd"/>
<rect x="74.3" y="377.8" width="10.2" height="1.6" fill="#cbcbcb"/>
<rect x="74.0" y="379.4" width="11.2" height="1.9" fill="#cecece"/>
<rect x="77.6" y="391.0" width="12.0" height="1.5" fill="#d4d4d4"/>
<rect x="76.6" y="392.3" width="13.3" height="1.5" fill="#cbcbcb"/>
<rect x="78.4" y="393.8" width="12.7" height="2.2" fill="#d9d9d9"/>
<rect x="78.6" y="395.8" width="12.8" height="2.0" fill="#dadada"/>
<rect x="76.9" y="397.8" width="14.9" height="1.3" fill="#e1e1e1"/>
<rect x="118.1" y="368.0" width="7.5" height="1.9" fill="#484848"/>
<rect x="118.7" y="369.8" width="5.6" height="1.2" fill="#4c4c4c"/>
<rect x="114.7" y="384.0" width="11.6" height="1.9" fill="#3d3d3d"/>
<rect x="115.7" y="385.7" width="9.7" height="1.4" fill="#414141"/>
<rect x="115.6" y="387.3" width="9.8" height="1.4" fill="#3c3c3c"/>
<rect x="115.6" y="388.6" width="10.1" height="1.6" fill="#434343"/>
<rect x="113.2" y="390.2" width="12.6" height="1.3" fill="#404040"/>
<rect x="113.5" y="391.6" width="12.8" height="1.9" fill="#3c3c3c"/>
</g></g>
<rect x="44.5" y="239.5" width="125" height="160" fill="none" stroke="#262626" stroke-width="1"/>
<line x1="45.0" y1="239" x2="45.0" y2="241.5" stroke="#262626" stroke-width="1"/>
<line x1="45.0" y1="400" x2="45.0" y2="397.5" stroke="#262626" stroke-width="1"/>
<line x1="60.5" y1="239" x2="60.5" y2="241.5" stroke="#262626" stroke-width="1"/>
<line x1="60.5" y1="400" x2="60.5" y2="397.5" stroke="#262626" stroke-width="1"/>
<line x1="76.0" y1="239" x2="76.0" y2="241.5" stroke="#262626" stroke-width="1"/>
<line x1="76.0" y1="400" x2="76.0" y2="397.5" stroke="#262626" stroke-width="1"/>
<line x1="91.5" y1="239" x2="91.5" y2="241.5" stroke="#262626" stroke-width="1"/>
<line x1="91.5" y1="400" x2="91.5" y2="397.5" stroke="#262626" stroke-width="1"/>
<line x1="107.0" y1="239" x2="107.0" y2="241.5" stroke="#262626" stroke-width="1"/>
<line x1="107.0" y1="400" x2="107.0" y2="397.5" stroke="#262626" stroke-width="1"/>
<line x1="122.5" y1="239" x2="122.5" y2="241.5" stroke="#262626" stroke-width="1"/>
<line x1="122.5" y1="400" x2="122.5" y2="397.5" stroke="#262626" stroke-width="1"/>
<line x1="138.0" y1="239" x2="138.0" y2="241.5" stroke="#262626" stroke-width="1"/>
<line x1="138.0" y1="400" x2="138.0" y2="397.5" stroke="#262626" stroke-width="1"/>
<line x1="153.5" y1="239" x2="153.5" y2="241.5" stroke="#262626" stroke-width="1"/>
<line x1="153.5" y1="400" x2="153.5" y2="397.5" stroke="#262626" stroke-width="1"/>
<line x1="169.0" y1="239" x2="169.0" y2="241.5" stroke="#262626" stroke-width="1"/>
<line x1="169.0" y1="400" x2="169.0" y2="397.5" stroke="#262626" stroke-width="1"/>
<line x1="44" y1="266.1" x2="46.5" y2="266.1" stroke="#262626" stroke-width="1"/>
<line x1="170" y1="266.1" x2="167.5" y2="266.1" stroke="#262626" stroke-width="1"/>
<line x1="44" y1="292.2" x2="46.5" y2="292.2" stroke="#262626" stroke-width="1"/>
<line x1="170" y1="292.2" x2="167.5" y2="292.2" stroke="#262626" stroke-width="1"/>
<line x1="44" y1="318.3" x2="46.5" y2="318.3" stroke="#262626" stroke-width="1"/>
<line x1="170" y1="318.3" x2="167.5" y2="318.3" stroke="#262626" stroke-width="1"/>
<line x1="44" y1="344.4" x2="46.5" y2="344.4" stroke="#262626" stroke-width="1"/>
<line x1="170" y1="344.4" x2="167.5" y2="344.4" stroke="#262626" stroke-width="1"/>
<line x1="44" y1="370.5" x2="46.5" y2="370.5" stroke="#262626" stroke-width="1"/>
<line x1="170" y1="370.5" x2="167.5" y2="370.5" stroke="#262626" stroke-width="1"/>
<line x1="44" y1="396.6" x2="46.5" y2="396.6" stroke="#262626" stroke-width="1"/>
<line x1="170" y1="396.6" x2="167.5" y2="396.6" stroke="#262626" stroke-width="1"/>
<rect x="105" y="239" width="4" height="161" fill="#000"/>
<line x1="44.7" y1="309.5" x2="169" y2="309.5" stroke="#000" stroke-width="3.8" stroke-dasharray="4 3.89"/>
<line x1="44.7" y1="350.9" x2="169" y2="350.9" stroke="#000" stroke-width="3.8" stroke-dasharray="4 3.89"/>
<text x="106.5" y="233.8" font-size="11.8" text-anchor="middle">Cue period</text>
<text x="41" y="270.4" font-size="12" text-anchor="end">200</text>
<text x="41" y="296.5" font-size="12" text-anchor="end">400</text>
<text x="41" y="322.6" font-size="12" text-anchor="end">600</text>
<text x="41" y="348.7" font-size="12" text-anchor="end">800</text>
<text x="41" y="374.8" font-size="12" text-anchor="end">1000</text>
<text x="41" y="400.9" font-size="12" text-anchor="end">1200</text>
<text x="14" y="319.0" font-size="12" text-anchor="middle" transform="rotate(-90 14 319.0)">Unit #</text>
<text x="45.0" y="411.6" font-size="12" text-anchor="middle">−2</text>
<text x="76.0" y="411.6" font-size="12" text-anchor="middle">−1</text>
<text x="107.0" y="411.6" font-size="12" text-anchor="middle">0</text>
<text x="138.0" y="411.6" font-size="12" text-anchor="middle">1</text>
<text x="169.0" y="411.6" font-size="12" text-anchor="middle">2</text>
<text x="106.5" y="428.5" font-size="12.2" text-anchor="middle">Time (s)</text>
<g clip-path="url(#c11)"><g filter="url(#hB)">
<rect x="183.0" y="233.0" width="70.2" height="80.8" fill="#8a8a8a"/>
<rect x="253.2" y="233.0" width="70.8" height="80.8" fill="#8a8a8a"/>
<rect x="183.0" y="313.8" width="70.2" height="39.0" fill="url(#g15)"/>
<rect x="253.2" y="313.8" width="70.8" height="39.0" fill="#939393"/>
<rect x="183.0" y="352.8" width="70.2" height="52.2" fill="#939393"/>
<rect x="253.2" y="352.8" width="70.8" height="52.2" fill="url(#g16)"/>
<rect x="183.0" y="233.0" width="70.2" height="80.8" fill="url(#g12)"/>
<rect x="253.2" y="233.0" width="70.8" height="80.8" fill="url(#g17)"/>
<rect x="258.5" y="317.0" width="5.0" height="1.6" fill="#bfbfbf"/>
<rect x="258.2" y="318.8" width="5.4" height="1.2" fill="#c6c6c6"/>
<rect x="255.1" y="333.0" width="12.9" height="1.3" fill="#c7c7c7"/>
<rect x="255.4" y="334.2" width="12.0" height="1.6" fill="#c7c7c7"/>
<rect x="255.3" y="335.8" width="15.1" height="1.9" fill="#bebebe"/>
<rect x="256.5" y="337.8" width="14.3" height="1.4" fill="#c2c2c2"/>
<rect x="257.1" y="339.4" width="15.9" height="1.4" fill="#c8c8c8"/>
<rect x="257.8" y="340.7" width="15.6" height="2.1" fill="#c7c7c7"/>
<rect x="257.0" y="342.5" width="17.6" height="1.5" fill="#c8c8c8"/>
<rect x="256.0" y="343.8" width="18.6" height="2.0" fill="#cccccc"/>
<rect x="256.3" y="345.5" width="21.5" height="1.9" fill="#d3d3d3"/>
<rect x="257.0" y="347.6" width="20.0" height="1.4" fill="#dfdfdf"/>
<rect x="254.5" y="348.8" width="25.9" height="2.0" fill="#d7d7d7"/>
<rect x="258.3" y="382.0" width="11.2" height="1.3" fill="#4d4d4d"/>
<rect x="258.5" y="383.3" width="9.8" height="2.1" fill="#4e4e4e"/>
<rect x="258.2" y="385.1" width="11.7" height="1.5" fill="#505050"/>
<rect x="258.6" y="386.8" width="11.1" height="1.7" fill="#525252"/>
<rect x="258.5" y="388.6" width="11.8" height="2.1" fill="#4b4b4b"/>
<rect x="258.6" y="390.5" width="10.4" height="1.7" fill="#4d4d4d"/>
<rect x="258.7" y="392.1" width="11.0" height="1.3" fill="#4d4d4d"/>
<rect x="259.6" y="393.3" width="9.8" height="1.7" fill="#505050"/>
<rect x="257.9" y="394.8" width="12.3" height="1.9" fill="#4a4a4a"/>
</g></g>
<rect x="191.5" y="239.5" width="125" height="160" fill="none" stroke="#262626" stroke-width="1"/>
<line x1="191.2" y1="239" x2="191.2" y2="241.5" stroke="#262626" stroke-width="1"/>
<line x1="191.2" y1="400" x2="191.2" y2="397.5" stroke="#262626" stroke-width="1"/>
<line x1="206.7" y1="239" x2="206.7" y2="241.5" stroke="#262626" stroke-width="1"/>
<line x1="206.7" y1="400" x2="206.7" y2="397.5" stroke="#262626" stroke-width="1"/>
<line x1="222.2" y1="239" x2="222.2" y2="241.5" stroke="#262626" stroke-width="1"/>
<line x1="222.2" y1="400" x2="222.2" y2="397.5" stroke="#262626" stroke-width="1"/>
<line x1="237.7" y1="239" x2="237.7" y2="241.5" stroke="#262626" stroke-width="1"/>
<line x1="237.7" y1="400" x2="237.7" y2="397.5" stroke="#262626" stroke-width="1"/>
<line x1="253.2" y1="239" x2="253.2" y2="241.5" stroke="#262626" stroke-width="1"/>
<line x1="253.2" y1="400" x2="253.2" y2="397.5" stroke="#262626" stroke-width="1"/>
<line x1="268.7" y1="239" x2="268.7" y2="241.5" stroke="#262626" stroke-width="1"/>
<line x1="268.7" y1="400" x2="268.7" y2="397.5" stroke="#262626" stroke-width="1"/>
<line x1="284.2" y1="239" x2="284.2" y2="241.5" stroke="#262626" stroke-width="1"/>
<line x1="284.2" y1="400" x2="284.2" y2="397.5" stroke="#262626" stroke-width="1"/>
<line x1="299.7" y1="239" x2="299.7" y2="241.5" stroke="#262626" stroke-width="1"/>
<line x1="299.7" y1="400" x2="299.7" y2="397.5" stroke="#262626" stroke-width="1"/>
<line x1="315.2" y1="239" x2="315.2" y2="241.5" stroke="#262626" stroke-width="1"/>
<line x1="315.2" y1="400" x2="315.2" y2="397.5" stroke="#262626" stroke-width="1"/>
<line x1="191" y1="266.1" x2="193.5" y2="266.1" stroke="#262626" stroke-width="1"/>
<line x1="317" y1="266.1" x2="314.5" y2="266.1" stroke="#262626" stroke-width="1"/>
<line x1="191" y1="292.2" x2="193.5" y2="292.2" stroke="#262626" stroke-width="1"/>
<line x1="317" y1="292.2" x2="314.5" y2="292.2" stroke="#262626" stroke-width="1"/>
<line x1="191" y1="318.3" x2="193.5" y2="318.3" stroke="#262626" stroke-width="1"/>
<line x1="317" y1="318.3" x2="314.5" y2="318.3" stroke="#262626" stroke-width="1"/>
<line x1="191" y1="344.4" x2="193.5" y2="344.4" stroke="#262626" stroke-width="1"/>
<line x1="317" y1="344.4" x2="314.5" y2="344.4" stroke="#262626" stroke-width="1"/>
<line x1="191" y1="370.5" x2="193.5" y2="370.5" stroke="#262626" stroke-width="1"/>
<line x1="317" y1="370.5" x2="314.5" y2="370.5" stroke="#262626" stroke-width="1"/>
<line x1="191" y1="396.6" x2="193.5" y2="396.6" stroke="#262626" stroke-width="1"/>
<line x1="317" y1="396.6" x2="314.5" y2="396.6" stroke="#262626" stroke-width="1"/>
<rect x="251.2" y="239" width="4" height="161" fill="#000"/>
<line x1="191.7" y1="313.8" x2="316" y2="313.8" stroke="#000" stroke-width="3.8" stroke-dasharray="4 3.89"/>
<line x1="191.7" y1="352.8" x2="316" y2="352.8" stroke="#000" stroke-width="3.8" stroke-dasharray="4 3.89"/>
<text x="253.5" y="233.8" font-size="11.8" text-anchor="middle">Approach airpuff period</text>
<text x="191.2" y="411.6" font-size="12" text-anchor="middle">−2</text>
<text x="222.2" y="411.6" font-size="12" text-anchor="middle">−1</text>
<text x="253.2" y="411.6" font-size="12" text-anchor="middle">0</text>
<text x="284.2" y="411.6" font-size="12" text-anchor="middle">1</text>
<text x="315.2" y="411.6" font-size="12" text-anchor="middle">2</text>
<text x="253.5" y="428.5" font-size="12.2" text-anchor="middle">Time (s)</text>
<g clip-path="url(#c12)"><g filter="url(#hB)">
<rect x="330.0" y="233.0" width="70.0" height="73.9" fill="#8a8a8a"/>
<rect x="400.0" y="233.0" width="71.0" height="73.9" fill="#8a8a8a"/>
<rect x="330.0" y="306.9" width="70.0" height="51.8" fill="url(#g18)"/>
<rect x="400.0" y="306.9" width="71.0" height="51.8" fill="#979797"/>
<rect x="330.0" y="358.7" width="70.0" height="46.3" fill="#999999"/>
<rect x="400.0" y="358.7" width="71.0" height="46.3" fill="#6e6e6e"/>
<rect x="330.0" y="233.0" width="70.0" height="73.9" fill="url(#g19)"/>
<rect x="400.0" y="233.0" width="71.0" height="73.9" fill="url(#g20)"/>
<rect x="370.7" y="343.0" width="8.3" height="1.5" fill="#4d4d4d"/>
<rect x="370.2" y="344.6" width="10.4" height="2.1" fill="#4d4d4d"/>
<rect x="370.1" y="346.6" width="9.4" height="1.8" fill="#4f4f4f"/>
<rect x="369.6" y="348.2" width="10.2" height="2.0" fill="#4a4a4a"/>
<rect x="368.2" y="350.4" width="12.7" height="2.0" fill="#484848"/>
<rect x="423.1" y="325.0" width="9.5" height="1.2" fill="#b5b5b5"/>
<rect x="422.8" y="326.1" width="9.1" height="1.9" fill="#b3b3b3"/>
<rect x="421.4" y="328.2" width="11.4" height="1.8" fill="#bcbcbc"/>
<rect x="421.5" y="329.7" width="12.2" height="1.9" fill="#bababa"/>
<rect x="419.7" y="331.6" width="16.6" height="1.9" fill="#b8b8b8"/>
<rect x="419.5" y="333.3" width="17.6" height="1.4" fill="#bcbcbc"/>
<rect x="418.4" y="334.7" width="18.2" height="1.7" fill="#c3c3c3"/>
<rect x="419.2" y="336.2" width="18.4" height="1.6" fill="#c1c1c1"/>
<rect x="418.1" y="337.9" width="20.3" height="1.2" fill="#bdbdbd"/>
<rect x="417.6" y="339.1" width="19.5" height="1.4" fill="#c3c3c3"/>
<rect x="417.4" y="340.3" width="20.6" height="1.9" fill="#cacaca"/>
<rect x="413.5" y="342.2" width="26.4" height="2.0" fill="#cecece"/>
<rect x="414.8" y="344.0" width="28.8" height="1.2" fill="#cccccc"/>
<rect x="413.8" y="345.2" width="25.8" height="1.9" fill="#c5c5c5"/>
<rect x="415.0" y="347.0" width="28.7" height="2.0" fill="#d7d7d7"/>
<rect x="415.3" y="348.8" width="26.7" height="2.0" fill="#d3d3d3"/>
<rect x="413.4" y="350.8" width="28.7" height="1.5" fill="#d0d0d0"/>
<rect x="414.6" y="352.3" width="31.0" height="1.3" fill="#d6d6d6"/>
<rect x="410.9" y="353.7" width="33.2" height="2.0" fill="#d3d3d3"/>
<rect x="413.1" y="355.5" width="32.0" height="1.5" fill="#d5d5d5"/>
<rect x="353.0" y="378.0" width="40.4" height="1.7" fill="#a3a3a3"/>
<rect x="353.5" y="379.9" width="38.6" height="1.8" fill="#a7a7a7"/>
<rect x="356.2" y="381.7" width="32.0" height="1.4" fill="#a2a2a2"/>
<rect x="353.5" y="383.0" width="36.5" height="1.3" fill="#a3a3a3"/>
<rect x="358.6" y="384.1" width="31.6" height="1.9" fill="#a7a7a7"/>
<rect x="360.8" y="393.0" width="16.7" height="1.7" fill="#c8c8c8"/>
<rect x="359.3" y="394.9" width="20.1" height="1.6" fill="#c6c6c6"/>
<rect x="359.5" y="396.5" width="17.0" height="1.4" fill="#d3d3d3"/>
<rect x="357.8" y="397.8" width="20.6" height="1.9" fill="#cccccc"/>
<rect x="427.8" y="380.0" width="15.1" height="1.6" fill="#484848"/>
<rect x="429.0" y="381.5" width="14.3" height="1.6" fill="#434343"/>
<rect x="429.7" y="383.2" width="13.2" height="1.3" fill="#484848"/>
<rect x="428.3" y="384.6" width="16.9" height="1.9" fill="#474747"/>
<rect x="429.7" y="386.5" width="14.4" height="1.3" fill="#414141"/>
<rect x="427.1" y="387.8" width="17.0" height="1.8" fill="#444444"/>
<rect x="428.7" y="389.7" width="15.8" height="2.0" fill="#3f3f3f"/>
<rect x="428.0" y="391.8" width="15.7" height="1.7" fill="#424242"/>
<rect x="430.0" y="393.5" width="13.8" height="1.4" fill="#404040"/>
<rect x="430.1" y="394.8" width="13.1" height="1.3" fill="#444444"/>
</g></g>
<rect x="338.5" y="239.5" width="125" height="160" fill="none" stroke="#262626" stroke-width="1"/>
<line x1="338.0" y1="239" x2="338.0" y2="241.5" stroke="#262626" stroke-width="1"/>
<line x1="338.0" y1="400" x2="338.0" y2="397.5" stroke="#262626" stroke-width="1"/>
<line x1="353.5" y1="239" x2="353.5" y2="241.5" stroke="#262626" stroke-width="1"/>
<line x1="353.5" y1="400" x2="353.5" y2="397.5" stroke="#262626" stroke-width="1"/>
<line x1="369.0" y1="239" x2="369.0" y2="241.5" stroke="#262626" stroke-width="1"/>
<line x1="369.0" y1="400" x2="369.0" y2="397.5" stroke="#262626" stroke-width="1"/>
<line x1="384.5" y1="239" x2="384.5" y2="241.5" stroke="#262626" stroke-width="1"/>
<line x1="384.5" y1="400" x2="384.5" y2="397.5" stroke="#262626" stroke-width="1"/>
<line x1="400.0" y1="239" x2="400.0" y2="241.5" stroke="#262626" stroke-width="1"/>
<line x1="400.0" y1="400" x2="400.0" y2="397.5" stroke="#262626" stroke-width="1"/>
<line x1="415.5" y1="239" x2="415.5" y2="241.5" stroke="#262626" stroke-width="1"/>
<line x1="415.5" y1="400" x2="415.5" y2="397.5" stroke="#262626" stroke-width="1"/>
<line x1="431.0" y1="239" x2="431.0" y2="241.5" stroke="#262626" stroke-width="1"/>
<line x1="431.0" y1="400" x2="431.0" y2="397.5" stroke="#262626" stroke-width="1"/>
<line x1="446.5" y1="239" x2="446.5" y2="241.5" stroke="#262626" stroke-width="1"/>
<line x1="446.5" y1="400" x2="446.5" y2="397.5" stroke="#262626" stroke-width="1"/>
<line x1="462.0" y1="239" x2="462.0" y2="241.5" stroke="#262626" stroke-width="1"/>
<line x1="462.0" y1="400" x2="462.0" y2="397.5" stroke="#262626" stroke-width="1"/>
<line x1="338" y1="266.1" x2="340.5" y2="266.1" stroke="#262626" stroke-width="1"/>
<line x1="464" y1="266.1" x2="461.5" y2="266.1" stroke="#262626" stroke-width="1"/>
<line x1="338" y1="292.2" x2="340.5" y2="292.2" stroke="#262626" stroke-width="1"/>
<line x1="464" y1="292.2" x2="461.5" y2="292.2" stroke="#262626" stroke-width="1"/>
<line x1="338" y1="318.3" x2="340.5" y2="318.3" stroke="#262626" stroke-width="1"/>
<line x1="464" y1="318.3" x2="461.5" y2="318.3" stroke="#262626" stroke-width="1"/>
<line x1="338" y1="344.4" x2="340.5" y2="344.4" stroke="#262626" stroke-width="1"/>
<line x1="464" y1="344.4" x2="461.5" y2="344.4" stroke="#262626" stroke-width="1"/>
<line x1="338" y1="370.5" x2="340.5" y2="370.5" stroke="#262626" stroke-width="1"/>
<line x1="464" y1="370.5" x2="461.5" y2="370.5" stroke="#262626" stroke-width="1"/>
<line x1="338" y1="396.6" x2="340.5" y2="396.6" stroke="#262626" stroke-width="1"/>
<line x1="464" y1="396.6" x2="461.5" y2="396.6" stroke="#262626" stroke-width="1"/>
<rect x="398" y="239" width="4" height="161" fill="#000"/>
<line x1="338.7" y1="306.9" x2="463" y2="306.9" stroke="#000" stroke-width="3.8" stroke-dasharray="4 3.89"/>
<line x1="338.7" y1="358.7" x2="463" y2="358.7" stroke="#000" stroke-width="3.8" stroke-dasharray="4 3.89"/>
<text x="400.5" y="233.8" font-size="11.8" text-anchor="middle">Approach reward period</text>
<text x="338.0" y="411.6" font-size="12" text-anchor="middle">−2</text>
<text x="369.0" y="411.6" font-size="12" text-anchor="middle">−1</text>
<text x="400.0" y="411.6" font-size="12" text-anchor="middle">0</text>
<text x="431.0" y="411.6" font-size="12" text-anchor="middle">1</text>
<text x="462.0" y="411.6" font-size="12" text-anchor="middle">2</text>
<text x="400.5" y="428.5" font-size="12.2" text-anchor="middle">Time (s)</text>
<g clip-path="url(#c13)"><g filter="url(#hB)">
<rect x="477.0" y="233.0" width="70.0" height="97.0" fill="#8a8a8a"/>
<rect x="547.0" y="233.0" width="71.0" height="97.0" fill="#8a8a8a"/>
<rect x="477.0" y="330.0" width="70.0" height="33.7" fill="#6e6e6e"/>
<rect x="547.0" y="330.0" width="71.0" height="33.7" fill="#959595"/>
<rect x="477.0" y="363.7" width="70.0" height="41.3" fill="#959595"/>
<rect x="547.0" y="363.7" width="71.0" height="41.3" fill="#6c6c6c"/>
<rect x="477.0" y="233.0" width="70.0" height="97.0" fill="url(#g21)"/>
<rect x="547.0" y="233.0" width="71.0" height="97.0" fill="url(#g12)"/>
<rect x="559.2" y="335.0" width="10.5" height="2.0" fill="#bebebe"/>
<rect x="557.1" y="345.0" width="8.1" height="1.3" fill="#c5c5c5"/>
<rect x="558.0" y="346.4" width="9.5" height="2.0" fill="#c1c1c1"/>
<rect x="557.7" y="348.6" width="13.5" height="1.4" fill="#c8c8c8"/>
<rect x="559.3" y="350.0" width="14.9" height="1.7" fill="#c5c5c5"/>
<rect x="558.5" y="351.9" width="21.1" height="1.6" fill="#c7c7c7"/>
<rect x="560.2" y="353.3" width="20.4" height="1.6" fill="#cfcfcf"/>
<rect x="561.0" y="355.1" width="20.5" height="1.3" fill="#d2d2d2"/>
<rect x="560.1" y="356.4" width="26.1" height="1.3" fill="#cbcbcb"/>
<rect x="558.1" y="357.8" width="28.2" height="1.5" fill="#cfcfcf"/>
<rect x="561.4" y="359.5" width="22.8" height="1.4" fill="#cbcbcb"/>
<rect x="564.5" y="360.7" width="19.6" height="1.7" fill="#d5d5d5"/>
<rect x="562.5" y="362.2" width="21.0" height="0.8" fill="#e0e0e0"/>
<rect x="563.1" y="362.9" width="19.8" height="1.5" fill="#d5d5d5"/>
<rect x="495.7" y="380.0" width="12.0" height="1.6" fill="#a2a2a2"/>
<rect x="495.0" y="381.8" width="15.1" height="1.7" fill="#a1a1a1"/>
<rect x="491.8" y="390.0" width="17.9" height="1.5" fill="#aaaaaa"/>
<rect x="489.3" y="391.5" width="24.0" height="1.3" fill="#a7a7a7"/>
<rect x="491.0" y="392.8" width="19.7" height="1.4" fill="#b0b0b0"/>
<rect x="487.9" y="394.1" width="23.7" height="1.6" fill="#b7b7b7"/>
<rect x="490.8" y="395.5" width="23.3" height="1.7" fill="#b6b6b6"/>
<rect x="490.0" y="397.2" width="25.0" height="1.7" fill="#b7b7b7"/>
<rect x="568.4" y="385.0" width="15.2" height="2.0" fill="#3d3d3d"/>
<rect x="566.7" y="387.2" width="15.7" height="1.9" fill="#3b3b3b"/>
<rect x="566.1" y="389.3" width="18.6" height="1.4" fill="#353535"/>
<rect x="568.5" y="390.7" width="15.2" height="2.0" fill="#363636"/>
<rect x="566.1" y="392.6" width="16.7" height="1.2" fill="#2d2d2d"/>
<rect x="565.3" y="393.8" width="19.5" height="2.2" fill="#313131"/>
<rect x="565.5" y="395.8" width="22.6" height="1.6" fill="#3a3a3a"/>
<rect x="564.4" y="397.2" width="24.5" height="1.6" fill="#343434"/>
</g></g>
<rect x="485.5" y="239.5" width="125" height="160" fill="none" stroke="#262626" stroke-width="1"/>
<line x1="485.0" y1="239" x2="485.0" y2="241.5" stroke="#262626" stroke-width="1"/>
<line x1="485.0" y1="400" x2="485.0" y2="397.5" stroke="#262626" stroke-width="1"/>
<line x1="500.5" y1="239" x2="500.5" y2="241.5" stroke="#262626" stroke-width="1"/>
<line x1="500.5" y1="400" x2="500.5" y2="397.5" stroke="#262626" stroke-width="1"/>
<line x1="516.0" y1="239" x2="516.0" y2="241.5" stroke="#262626" stroke-width="1"/>
<line x1="516.0" y1="400" x2="516.0" y2="397.5" stroke="#262626" stroke-width="1"/>
<line x1="531.5" y1="239" x2="531.5" y2="241.5" stroke="#262626" stroke-width="1"/>
<line x1="531.5" y1="400" x2="531.5" y2="397.5" stroke="#262626" stroke-width="1"/>
<line x1="547.0" y1="239" x2="547.0" y2="241.5" stroke="#262626" stroke-width="1"/>
<line x1="547.0" y1="400" x2="547.0" y2="397.5" stroke="#262626" stroke-width="1"/>
<line x1="562.5" y1="239" x2="562.5" y2="241.5" stroke="#262626" stroke-width="1"/>
<line x1="562.5" y1="400" x2="562.5" y2="397.5" stroke="#262626" stroke-width="1"/>
<line x1="578.0" y1="239" x2="578.0" y2="241.5" stroke="#262626" stroke-width="1"/>
<line x1="578.0" y1="400" x2="578.0" y2="397.5" stroke="#262626" stroke-width="1"/>
<line x1="593.5" y1="239" x2="593.5" y2="241.5" stroke="#262626" stroke-width="1"/>
<line x1="593.5" y1="400" x2="593.5" y2="397.5" stroke="#262626" stroke-width="1"/>
<line x1="609.0" y1="239" x2="609.0" y2="241.5" stroke="#262626" stroke-width="1"/>
<line x1="609.0" y1="400" x2="609.0" y2="397.5" stroke="#262626" stroke-width="1"/>
<line x1="485" y1="266.1" x2="487.5" y2="266.1" stroke="#262626" stroke-width="1"/>
<line x1="611" y1="266.1" x2="608.5" y2="266.1" stroke="#262626" stroke-width="1"/>
<line x1="485" y1="292.2" x2="487.5" y2="292.2" stroke="#262626" stroke-width="1"/>
<line x1="611" y1="292.2" x2="608.5" y2="292.2" stroke="#262626" stroke-width="1"/>
<line x1="485" y1="318.3" x2="487.5" y2="318.3" stroke="#262626" stroke-width="1"/>
<line x1="611" y1="318.3" x2="608.5" y2="318.3" stroke="#262626" stroke-width="1"/>
<line x1="485" y1="344.4" x2="487.5" y2="344.4" stroke="#262626" stroke-width="1"/>
<line x1="611" y1="344.4" x2="608.5" y2="344.4" stroke="#262626" stroke-width="1"/>
<line x1="485" y1="370.5" x2="487.5" y2="370.5" stroke="#262626" stroke-width="1"/>
<line x1="611" y1="370.5" x2="608.5" y2="370.5" stroke="#262626" stroke-width="1"/>
<line x1="485" y1="396.6" x2="487.5" y2="396.6" stroke="#262626" stroke-width="1"/>
<line x1="611" y1="396.6" x2="608.5" y2="396.6" stroke="#262626" stroke-width="1"/>
<rect x="545" y="239" width="4" height="161" fill="#000"/>
<line x1="485.7" y1="330.0" x2="610" y2="330.0" stroke="#000" stroke-width="3.8" stroke-dasharray="4 3.89"/>
<line x1="485.7" y1="363.7" x2="610" y2="363.7" stroke="#000" stroke-width="3.8" stroke-dasharray="4 3.89"/>
<text x="547.5" y="233.8" font-size="11.8" text-anchor="middle">Avoidance outcome period</text>
<text x="485.0" y="411.6" font-size="12" text-anchor="middle">−2</text>
<text x="516.0" y="411.6" font-size="12" text-anchor="middle">−1</text>
<text x="547.0" y="411.6" font-size="12" text-anchor="middle">0</text>
<text x="578.0" y="411.6" font-size="12" text-anchor="middle">1</text>
<text x="609.0" y="411.6" font-size="12" text-anchor="middle">2</text>
<text x="547.5" y="428.5" font-size="12.2" text-anchor="middle">Time (s)</text>
<g clip-path="url(#c20)"><g filter="url(#hA)">
<rect x="36.0" y="485.0" width="71.0" height="129.7" fill="#888888"/>
<rect x="107.0" y="485.0" width="70.0" height="129.7" fill="#888888"/>
<rect x="36.0" y="614.7" width="71.0" height="9.4" fill="#868686"/>
<rect x="107.0" y="614.7" width="70.0" height="9.4" fill="#959595"/>
<rect x="36.0" y="624.1" width="71.0" height="32.9" fill="#939393"/>
<rect x="107.0" y="624.1" width="70.0" height="32.9" fill="url(#g22)"/>
<rect x="36.0" y="485.0" width="71.0" height="129.7" fill="url(#g1)"/>
<rect x="107.0" y="485.0" width="70.0" height="129.7" fill="url(#g23)"/>
<rect x="109.0" y="580.0" width="41.0" height="35.0" fill="url(#g24)"/>
<rect x="120.5" y="617.0" width="14.1" height="2.2" fill="#b9b9b9"/>
<rect x="119.2" y="619.2" width="15.1" height="2.0" fill="#b5b5b5"/>
<rect x="120.1" y="621.4" width="13.3" height="1.7" fill="#b6b6b6"/>
<rect x="120.5" y="635.0" width="7.4" height="1.8" fill="#414141"/>
<rect x="120.9" y="636.6" width="7.2" height="2.1" fill="#424242"/>
<rect x="116.4" y="642.0" width="10.7" height="2.1" fill="#353535"/>
<rect x="114.0" y="644.3" width="14.1" height="1.9" fill="#303030"/>
<rect x="116.7" y="646.4" width="11.0" height="1.2" fill="#333333"/>
<rect x="115.5" y="647.6" width="13.2" height="1.8" fill="#292929"/>
<rect x="115.3" y="649.3" width="13.3" height="1.7" fill="#313131"/>
</g></g>
<rect x="44.5" y="491.5" width="125" height="160" fill="none" stroke="#262626" stroke-width="1"/>
<line x1="45.0" y1="491" x2="45.0" y2="493.5" stroke="#262626" stroke-width="1"/>
<line x1="45.0" y1="652" x2="45.0" y2="649.5" stroke="#262626" stroke-width="1"/>
<line x1="60.5" y1="491" x2="60.5" y2="493.5" stroke="#262626" stroke-width="1"/>
<line x1="60.5" y1="652" x2="60.5" y2="649.5" stroke="#262626" stroke-width="1"/>
<line x1="76.0" y1="491" x2="76.0" y2="493.5" stroke="#262626" stroke-width="1"/>
<line x1="76.0" y1="652" x2="76.0" y2="649.5" stroke="#262626" stroke-width="1"/>
<line x1="91.5" y1="491" x2="91.5" y2="493.5" stroke="#262626" stroke-width="1"/>
<line x1="91.5" y1="652" x2="91.5" y2="649.5" stroke="#262626" stroke-width="1"/>
<line x1="107.0" y1="491" x2="107.0" y2="493.5" stroke="#262626" stroke-width="1"/>
<line x1="107.0" y1="652" x2="107.0" y2="649.5" stroke="#262626" stroke-width="1"/>
<line x1="122.5" y1="491" x2="122.5" y2="493.5" stroke="#262626" stroke-width="1"/>
<line x1="122.5" y1="652" x2="122.5" y2="649.5" stroke="#262626" stroke-width="1"/>
<line x1="138.0" y1="491" x2="138.0" y2="493.5" stroke="#262626" stroke-width="1"/>
<line x1="138.0" y1="652" x2="138.0" y2="649.5" stroke="#262626" stroke-width="1"/>
<line x1="153.5" y1="491" x2="153.5" y2="493.5" stroke="#262626" stroke-width="1"/>
<line x1="153.5" y1="652" x2="153.5" y2="649.5" stroke="#262626" stroke-width="1"/>
<line x1="169.0" y1="491" x2="169.0" y2="493.5" stroke="#262626" stroke-width="1"/>
<line x1="169.0" y1="652" x2="169.0" y2="649.5" stroke="#262626" stroke-width="1"/>
<line x1="44" y1="511.4" x2="46.5" y2="511.4" stroke="#262626" stroke-width="1"/>
<line x1="170" y1="511.4" x2="167.5" y2="511.4" stroke="#262626" stroke-width="1"/>
<line x1="44" y1="530.9" x2="46.5" y2="530.9" stroke="#262626" stroke-width="1"/>
<line x1="170" y1="530.9" x2="167.5" y2="530.9" stroke="#262626" stroke-width="1"/>
<line x1="44" y1="550.4" x2="46.5" y2="550.4" stroke="#262626" stroke-width="1"/>
<line x1="170" y1="550.4" x2="167.5" y2="550.4" stroke="#262626" stroke-width="1"/>
<line x1="44" y1="569.8" x2="46.5" y2="569.8" stroke="#262626" stroke-width="1"/>
<line x1="170" y1="569.8" x2="167.5" y2="569.8" stroke="#262626" stroke-width="1"/>
<line x1="44" y1="589.2" x2="46.5" y2="589.2" stroke="#262626" stroke-width="1"/>
<line x1="170" y1="589.2" x2="167.5" y2="589.2" stroke="#262626" stroke-width="1"/>
<line x1="44" y1="608.7" x2="46.5" y2="608.7" stroke="#262626" stroke-width="1"/>
<line x1="170" y1="608.7" x2="167.5" y2="608.7" stroke="#262626" stroke-width="1"/>
<line x1="44" y1="628.1" x2="46.5" y2="628.1" stroke="#262626" stroke-width="1"/>
<line x1="170" y1="628.1" x2="167.5" y2="628.1" stroke="#262626" stroke-width="1"/>
<line x1="44" y1="647.6" x2="46.5" y2="647.6" stroke="#262626" stroke-width="1"/>
<line x1="170" y1="647.6" x2="167.5" y2="647.6" stroke="#262626" stroke-width="1"/>
<rect x="105" y="491" width="4" height="161" fill="#000"/>
<line x1="44.7" y1="614.7" x2="169" y2="614.7" stroke="#000" stroke-width="3.8" stroke-dasharray="4 3.89"/>
<line x1="44.7" y1="624.1" x2="169" y2="624.1" stroke="#000" stroke-width="3.8" stroke-dasharray="4 3.89"/>
<text x="106.5" y="485.8" font-size="11.8" text-anchor="middle">Reward cue period</text>
<text x="41" y="535.2" font-size="12" text-anchor="end">100</text>
<text x="41" y="574.1" font-size="12" text-anchor="end">200</text>
<text x="41" y="613.0" font-size="12" text-anchor="end">300</text>
<text x="41" y="651.9" font-size="12" text-anchor="end">400</text>
<text x="14" y="571.0" font-size="12" text-anchor="middle" transform="rotate(-90 14 571.0)">Unit #</text>
<g clip-path="url(#c21)"><g filter="url(#hA)">
<rect x="183.0" y="485.0" width="70.2" height="118.6" fill="#888888"/>
<rect x="253.2" y="485.0" width="70.8" height="118.6" fill="#888888"/>
<rect x="183.0" y="603.6" width="70.2" height="14.0" fill="#6e6e6e"/>
<rect x="253.2" y="603.6" width="70.8" height="14.0" fill="#909090"/>
<rect x="183.0" y="617.6" width="70.2" height="39.4" fill="#959595"/>
<rect x="253.2" y="617.6" width="70.8" height="39.4" fill="url(#g25)"/>
<rect x="183.0" y="485.0" width="70.2" height="118.6" fill="url(#g1)"/>
<rect x="253.2" y="485.0" width="70.8" height="118.6" fill="url(#g26)"/>
<rect x="256.0" y="565.0" width="44.0" height="39.0" fill="url(#g27)"/>
<rect x="265.1" y="605.0" width="23.3" height="1.4" fill="#b4b4b4"/>
<rect x="263.0" y="606.4" width="24.5" height="1.8" fill="#b3b3b3"/>
<rect x="261.2" y="608.4" width="29.6" height="1.5" fill="#b0b0b0"/>
<rect x="261.1" y="610.1" width="29.4" height="1.7" fill="#afafaf"/>
<rect x="263.0" y="611.8" width="24.9" height="2.0" fill="#afafaf"/>
<rect x="262.2" y="613.9" width="29.1" height="2.1" fill="#b9b9b9"/>
<rect x="264.9" y="621.0" width="6.6" height="2.0" fill="#474747"/>
<rect x="265.7" y="622.8" width="5.7" height="2.0" fill="#454545"/>
<rect x="260.6" y="630.0" width="9.7" height="1.8" fill="#414141"/>
<rect x="261.6" y="632.0" width="9.5" height="1.9" fill="#393939"/>
<rect x="261.0" y="633.7" width="9.8" height="2.2" fill="#393939"/>
<rect x="261.1" y="635.8" width="10.2" height="2.1" fill="#3f3f3f"/>
<rect x="260.2" y="638.1" width="10.5" height="1.6" fill="#3e3e3e"/>
<rect x="261.8" y="639.6" width="8.9" height="1.4" fill="#3a3a3a"/>
<rect x="260.5" y="641.1" width="10.5" height="2.1" fill="#343434"/>
<rect x="261.6" y="643.3" width="9.1" height="1.3" fill="#363636"/>
<rect x="262.0" y="644.5" width="8.8" height="2.1" fill="#323232"/>
<rect x="261.6" y="646.7" width="10.2" height="2.0" fill="#3c3c3c"/>
<rect x="261.4" y="648.4" width="10.4" height="1.8" fill="#2f2f2f"/>
<rect x="261.5" y="650.2" width="10.3" height="1.8" fill="#363636"/>
</g></g>
<rect x="191.5" y="491.5" width="125" height="160" fill="none" stroke="#262626" stroke-width="1"/>
<line x1="191.2" y1="491" x2="191.2" y2="493.5" stroke="#262626" stroke-width="1"/>
<line x1="191.2" y1="652" x2="191.2" y2="649.5" stroke="#262626" stroke-width="1"/>
<line x1="206.7" y1="491" x2="206.7" y2="493.5" stroke="#262626" stroke-width="1"/>
<line x1="206.7" y1="652" x2="206.7" y2="649.5" stroke="#262626" stroke-width="1"/>
<line x1="222.2" y1="491" x2="222.2" y2="493.5" stroke="#262626" stroke-width="1"/>
<line x1="222.2" y1="652" x2="222.2" y2="649.5" stroke="#262626" stroke-width="1"/>
<line x1="237.7" y1="491" x2="237.7" y2="493.5" stroke="#262626" stroke-width="1"/>
<line x1="237.7" y1="652" x2="237.7" y2="649.5" stroke="#262626" stroke-width="1"/>
<line x1="253.2" y1="491" x2="253.2" y2="493.5" stroke="#262626" stroke-width="1"/>
<line x1="253.2" y1="652" x2="253.2" y2="649.5" stroke="#262626" stroke-width="1"/>
<line x1="268.7" y1="491" x2="268.7" y2="493.5" stroke="#262626" stroke-width="1"/>
<line x1="268.7" y1="652" x2="268.7" y2="649.5" stroke="#262626" stroke-width="1"/>
<line x1="284.2" y1="491" x2="284.2" y2="493.5" stroke="#262626" stroke-width="1"/>
<line x1="284.2" y1="652" x2="284.2" y2="649.5" stroke="#262626" stroke-width="1"/>
<line x1="299.7" y1="491" x2="299.7" y2="493.5" stroke="#262626" stroke-width="1"/>
<line x1="299.7" y1="652" x2="299.7" y2="649.5" stroke="#262626" stroke-width="1"/>
<line x1="315.2" y1="491" x2="315.2" y2="493.5" stroke="#262626" stroke-width="1"/>
<line x1="315.2" y1="652" x2="315.2" y2="649.5" stroke="#262626" stroke-width="1"/>
<line x1="191" y1="511.4" x2="193.5" y2="511.4" stroke="#262626" stroke-width="1"/>
<line x1="317" y1="511.4" x2="314.5" y2="511.4" stroke="#262626" stroke-width="1"/>
<line x1="191" y1="530.9" x2="193.5" y2="530.9" stroke="#262626" stroke-width="1"/>
<line x1="317" y1="530.9" x2="314.5" y2="530.9" stroke="#262626" stroke-width="1"/>
<line x1="191" y1="550.4" x2="193.5" y2="550.4" stroke="#262626" stroke-width="1"/>
<line x1="317" y1="550.4" x2="314.5" y2="550.4" stroke="#262626" stroke-width="1"/>
<line x1="191" y1="569.8" x2="193.5" y2="569.8" stroke="#262626" stroke-width="1"/>
<line x1="317" y1="569.8" x2="314.5" y2="569.8" stroke="#262626" stroke-width="1"/>
<line x1="191" y1="589.2" x2="193.5" y2="589.2" stroke="#262626" stroke-width="1"/>
<line x1="317" y1="589.2" x2="314.5" y2="589.2" stroke="#262626" stroke-width="1"/>
<line x1="191" y1="608.7" x2="193.5" y2="608.7" stroke="#262626" stroke-width="1"/>
<line x1="317" y1="608.7" x2="314.5" y2="608.7" stroke="#262626" stroke-width="1"/>
<line x1="191" y1="628.1" x2="193.5" y2="628.1" stroke="#262626" stroke-width="1"/>
<line x1="317" y1="628.1" x2="314.5" y2="628.1" stroke="#262626" stroke-width="1"/>
<line x1="191" y1="647.6" x2="193.5" y2="647.6" stroke="#262626" stroke-width="1"/>
<line x1="317" y1="647.6" x2="314.5" y2="647.6" stroke="#262626" stroke-width="1"/>
<rect x="251.2" y="491" width="4" height="161" fill="#000"/>
<line x1="191.7" y1="603.6" x2="316" y2="603.6" stroke="#000" stroke-width="3.8" stroke-dasharray="4 3.89"/>
<line x1="191.7" y1="617.6" x2="316" y2="617.6" stroke="#000" stroke-width="3.8" stroke-dasharray="4 3.89"/>
<text x="253.5" y="485.8" font-size="11.8" text-anchor="middle">Airpuff cue period</text>
<g clip-path="url(#c22)"><g filter="url(#hA)">
<rect x="330.0" y="485.0" width="70.0" height="131.7" fill="#888888"/>
<rect x="400.0" y="485.0" width="71.0" height="131.7" fill="#888888"/>
<rect x="330.0" y="616.7" width="70.0" height="16.1" fill="#6e6e6e"/>
<rect x="400.0" y="616.7" width="71.0" height="16.1" fill="#999999"/>
<rect x="330.0" y="632.8" width="70.0" height="24.2" fill="#8e8e8e"/>
<rect x="400.0" y="632.8" width="71.0" height="24.2" fill="#737373"/>
<rect x="330.0" y="485.0" width="70.0" height="131.7" fill="url(#g10)"/>
<rect x="400.0" y="485.0" width="71.0" height="131.7" fill="url(#g20)"/>
<rect x="410.3" y="620.0" width="30.8" height="1.7" fill="#a6a6a6"/>
<rect x="411.1" y="621.5" width="27.7" height="1.3" fill="#a6a6a6"/>
<rect x="410.8" y="622.8" width="30.0" height="1.5" fill="#acacac"/>
<rect x="411.7" y="624.5" width="27.1" height="1.3" fill="#a8a8a8"/>
<rect x="410.5" y="625.8" width="26.1" height="1.5" fill="#a8a8a8"/>
<rect x="413.3" y="627.2" width="26.1" height="1.8" fill="#a7a7a7"/>
<rect x="412.6" y="629.0" width="26.6" height="1.8" fill="#ababab"/>
<rect x="410.0" y="630.7" width="26.6" height="1.7" fill="#afafaf"/>
<rect x="411.6" y="632.4" width="25.8" height="2.2" fill="#a8a8a8"/>
<rect x="418.0" y="623.0" width="5.9" height="2.0" fill="#b8b8b8"/>
<rect x="412.0" y="628.0" width="8.4" height="1.6" fill="#bbbbbb"/>
<rect x="411.9" y="629.6" width="7.7" height="1.6" fill="#b9b9b9"/>
<rect x="381.7" y="607.0" width="10.1" height="1.7" fill="#b0b0b0"/>
<rect x="381.5" y="608.8" width="10.7" height="1.3" fill="#afafaf"/>
</g></g>
<rect x="338.5" y="491.5" width="125" height="160" fill="none" stroke="#262626" stroke-width="1"/>
<line x1="338.0" y1="491" x2="338.0" y2="493.5" stroke="#262626" stroke-width="1"/>
<line x1="338.0" y1="652" x2="338.0" y2="649.5" stroke="#262626" stroke-width="1"/>
<line x1="353.5" y1="491" x2="353.5" y2="493.5" stroke="#262626" stroke-width="1"/>
<line x1="353.5" y1="652" x2="353.5" y2="649.5" stroke="#262626" stroke-width="1"/>
<line x1="369.0" y1="491" x2="369.0" y2="493.5" stroke="#262626" stroke-width="1"/>
<line x1="369.0" y1="652" x2="369.0" y2="649.5" stroke="#262626" stroke-width="1"/>
<line x1="384.5" y1="491" x2="384.5" y2="493.5" stroke="#262626" stroke-width="1"/>
<line x1="384.5" y1="652" x2="384.5" y2="649.5" stroke="#262626" stroke-width="1"/>
<line x1="400.0" y1="491" x2="400.0" y2="493.5" stroke="#262626" stroke-width="1"/>
<line x1="400.0" y1="652" x2="400.0" y2="649.5" stroke="#262626" stroke-width="1"/>
<line x1="415.5" y1="491" x2="415.5" y2="493.5" stroke="#262626" stroke-width="1"/>
<line x1="415.5" y1="652" x2="415.5" y2="649.5" stroke="#262626" stroke-width="1"/>
<line x1="431.0" y1="491" x2="431.0" y2="493.5" stroke="#262626" stroke-width="1"/>
<line x1="431.0" y1="652" x2="431.0" y2="649.5" stroke="#262626" stroke-width="1"/>
<line x1="446.5" y1="491" x2="446.5" y2="493.5" stroke="#262626" stroke-width="1"/>
<line x1="446.5" y1="652" x2="446.5" y2="649.5" stroke="#262626" stroke-width="1"/>
<line x1="462.0" y1="491" x2="462.0" y2="493.5" stroke="#262626" stroke-width="1"/>
<line x1="462.0" y1="652" x2="462.0" y2="649.5" stroke="#262626" stroke-width="1"/>
<line x1="338" y1="511.4" x2="340.5" y2="511.4" stroke="#262626" stroke-width="1"/>
<line x1="464" y1="511.4" x2="461.5" y2="511.4" stroke="#262626" stroke-width="1"/>
<line x1="338" y1="530.9" x2="340.5" y2="530.9" stroke="#262626" stroke-width="1"/>
<line x1="464" y1="530.9" x2="461.5" y2="530.9" stroke="#262626" stroke-width="1"/>
<line x1="338" y1="550.4" x2="340.5" y2="550.4" stroke="#262626" stroke-width="1"/>
<line x1="464" y1="550.4" x2="461.5" y2="550.4" stroke="#262626" stroke-width="1"/>
<line x1="338" y1="569.8" x2="340.5" y2="569.8" stroke="#262626" stroke-width="1"/>
<line x1="464" y1="569.8" x2="461.5" y2="569.8" stroke="#262626" stroke-width="1"/>
<line x1="338" y1="589.2" x2="340.5" y2="589.2" stroke="#262626" stroke-width="1"/>
<line x1="464" y1="589.2" x2="461.5" y2="589.2" stroke="#262626" stroke-width="1"/>
<line x1="338" y1="608.7" x2="340.5" y2="608.7" stroke="#262626" stroke-width="1"/>
<line x1="464" y1="608.7" x2="461.5" y2="608.7" stroke="#262626" stroke-width="1"/>
<line x1="338" y1="628.1" x2="340.5" y2="628.1" stroke="#262626" stroke-width="1"/>
<line x1="464" y1="628.1" x2="461.5" y2="628.1" stroke="#262626" stroke-width="1"/>
<line x1="338" y1="647.6" x2="340.5" y2="647.6" stroke="#262626" stroke-width="1"/>
<line x1="464" y1="647.6" x2="461.5" y2="647.6" stroke="#262626" stroke-width="1"/>
<rect x="398" y="491" width="4" height="161" fill="#000"/>
<line x1="338.7" y1="616.7" x2="463" y2="616.7" stroke="#000" stroke-width="3.8" stroke-dasharray="4 3.89"/>
<line x1="338.7" y1="632.8" x2="463" y2="632.8" stroke="#000" stroke-width="3.8" stroke-dasharray="4 3.89"/>
<text x="400.5" y="485.8" font-size="11.8" text-anchor="middle">Pavlovian reward period</text>
<g clip-path="url(#c23)"><g filter="url(#hA)">
<rect x="477.0" y="485.0" width="70.0" height="107.8" fill="#888888"/>
<rect x="547.0" y="485.0" width="71.0" height="107.8" fill="#888888"/>
<rect x="477.0" y="592.8" width="70.0" height="21.3" fill="#6c6c6c"/>
<rect x="547.0" y="592.8" width="71.0" height="21.3" fill="#8c8c8c"/>
<rect x="477.0" y="614.1" width="70.0" height="42.9" fill="url(#g28)"/>
<rect x="547.0" y="614.1" width="71.0" height="42.9" fill="#717171"/>
<rect x="477.0" y="485.0" width="70.0" height="107.8" fill="url(#g6)"/>
<rect x="547.0" y="485.0" width="71.0" height="107.8" fill="url(#g2)"/>
<rect x="550.0" y="594.0" width="28.0" height="19.0" fill="url(#g29)"/>
<rect x="552.5" y="597.0" width="11.1" height="2.1" fill="#bcbcbc"/>
<rect x="553.7" y="599.1" width="9.2" height="1.2" fill="#c1c1c1"/>
<rect x="553.1" y="600.4" width="10.4" height="1.8" fill="#c5c5c5"/>
<rect x="552.7" y="602.0" width="11.1" height="2.2" fill="#c5c5c5"/>
<rect x="552.8" y="604.4" width="10.9" height="1.7" fill="#d1d1d1"/>
<rect x="553.0" y="606.1" width="11.2" height="1.9" fill="#cdcdcd"/>
<rect x="554.5" y="608.1" width="7.9" height="1.9" fill="#cccccc"/>
<rect x="554.3" y="610.1" width="8.9" height="0.9" fill="#c3c3c3"/>
<rect x="554.5" y="610.9" width="8.8" height="1.8" fill="#bbbbbb"/>
<rect x="515.7" y="637.0" width="17.0" height="1.2" fill="#b2b2b2"/>
<rect x="518.1" y="638.2" width="14.0" height="1.4" fill="#c5c5c5"/>
<rect x="519.0" y="639.7" width="11.6" height="2.1" fill="#c8c8c8"/>
<rect x="519.0" y="641.6" width="12.8" height="1.5" fill="#c5c5c5"/>
<rect x="518.3" y="643.0" width="13.2" height="1.0" fill="#c5c5c5"/>
<rect x="487.2" y="621.0" width="9.9" height="1.8" fill="#4b4b4b"/>
<rect x="488.3" y="622.7" width="8.6" height="1.8" fill="#494949"/>
<rect x="486.8" y="635.0" width="10.0" height="1.4" fill="#414141"/>
<rect x="487.2" y="636.6" width="8.8" height="2.0" fill="#3c3c3c"/>
<rect x="488.4" y="644.0" width="10.3" height="2.0" fill="#3f3f3f"/>
<rect x="487.8" y="645.9" width="10.0" height="1.5" fill="#444444"/>
</g></g>
<rect x="485.5" y="491.5" width="125" height="160" fill="none" stroke="#262626" stroke-width="1"/>
<line x1="485.0" y1="491" x2="485.0" y2="493.5" stroke="#262626" stroke-width="1"/>
<line x1="485.0" y1="652" x2="485.0" y2="649.5" stroke="#262626" stroke-width="1"/>
<line x1="500.5" y1="491" x2="500.5" y2="493.5" stroke="#262626" stroke-width="1"/>
<line x1="500.5" y1="652" x2="500.5" y2="649.5" stroke="#262626" stroke-width="1"/>
<line x1="516.0" y1="491" x2="516.0" y2="493.5" stroke="#262626" stroke-width="1"/>
<line x1="516.0" y1="652" x2="516.0" y2="649.5" stroke="#262626" stroke-width="1"/>
<line x1="531.5" y1="491" x2="531.5" y2="493.5" stroke="#262626" stroke-width="1"/>
<line x1="531.5" y1="652" x2="531.5" y2="649.5" stroke="#262626" stroke-width="1"/>
<line x1="547.0" y1="491" x2="547.0" y2="493.5" stroke="#262626" stroke-width="1"/>
<line x1="547.0" y1="652" x2="547.0" y2="649.5" stroke="#262626" stroke-width="1"/>
<line x1="562.5" y1="491" x2="562.5" y2="493.5" stroke="#262626" stroke-width="1"/>
<line x1="562.5" y1="652" x2="562.5" y2="649.5" stroke="#262626" stroke-width="1"/>
<line x1="578.0" y1="491" x2="578.0" y2="493.5" stroke="#262626" stroke-width="1"/>
<line x1="578.0" y1="652" x2="578.0" y2="649.5" stroke="#262626" stroke-width="1"/>
<line x1="593.5" y1="491" x2="593.5" y2="493.5" stroke="#262626" stroke-width="1"/>
<line x1="593.5" y1="652" x2="593.5" y2="649.5" stroke="#262626" stroke-width="1"/>
<line x1="609.0" y1="491" x2="609.0" y2="493.5" stroke="#262626" stroke-width="1"/>
<line x1="609.0" y1="652" x2="609.0" y2="649.5" stroke="#262626" stroke-width="1"/>
<line x1="485" y1="511.4" x2="487.5" y2="511.4" stroke="#262626" stroke-width="1"/>
<line x1="611" y1="511.4" x2="608.5" y2="511.4" stroke="#262626" stroke-width="1"/>
<line x1="485" y1="530.9" x2="487.5" y2="530.9" stroke="#262626" stroke-width="1"/>
<line x1="611" y1="530.9" x2="608.5" y2="530.9" stroke="#262626" stroke-width="1"/>
<line x1="485" y1="550.4" x2="487.5" y2="550.4" stroke="#262626" stroke-width="1"/>
<line x1="611" y1="550.4" x2="608.5" y2="550.4" stroke="#262626" stroke-width="1"/>
<line x1="485" y1="569.8" x2="487.5" y2="569.8" stroke="#262626" stroke-width="1"/>
<line x1="611" y1="569.8" x2="608.5" y2="569.8" stroke="#262626" stroke-width="1"/>
<line x1="485" y1="589.2" x2="487.5" y2="589.2" stroke="#262626" stroke-width="1"/>
<line x1="611" y1="589.2" x2="608.5" y2="589.2" stroke="#262626" stroke-width="1"/>
<line x1="485" y1="608.7" x2="487.5" y2="608.7" stroke="#262626" stroke-width="1"/>
<line x1="611" y1="608.7" x2="608.5" y2="608.7" stroke="#262626" stroke-width="1"/>
<line x1="485" y1="628.1" x2="487.5" y2="628.1" stroke="#262626" stroke-width="1"/>
<line x1="611" y1="628.1" x2="608.5" y2="628.1" stroke="#262626" stroke-width="1"/>
<line x1="485" y1="647.6" x2="487.5" y2="647.6" stroke="#262626" stroke-width="1"/>
<line x1="611" y1="647.6" x2="608.5" y2="647.6" stroke="#262626" stroke-width="1"/>
<rect x="545" y="491" width="4" height="161" fill="#000"/>
<line x1="485.7" y1="592.8" x2="610" y2="592.8" stroke="#000" stroke-width="3.8" stroke-dasharray="4 3.89"/>
<line x1="485.7" y1="614.1" x2="610" y2="614.1" stroke="#000" stroke-width="3.8" stroke-dasharray="4 3.89"/>
<text x="547.5" y="485.8" font-size="11.8" text-anchor="middle">Pavlovian airpuff period</text>
<g clip-path="url(#c30)"><g filter="url(#hB)">
<rect x="36.0" y="688.0" width="71.0" height="117.5" fill="#8a8a8a"/>
<rect x="107.0" y="688.0" width="70.0" height="117.5" fill="url(#g30)"/>
<rect x="36.0" y="805.5" width="71.0" height="24.0" fill="#6e6e6e"/>
<rect x="107.0" y="805.5" width="70.0" height="24.0" fill="#8e8e8e"/>
<rect x="36.0" y="829.5" width="71.0" height="30.5" fill="#909090"/>
<rect x="107.0" y="829.5" width="70.0" height="30.5" fill="url(#g31)"/>
<rect x="36.0" y="688.0" width="71.0" height="117.5" fill="url(#g32)"/>
<rect x="107.0" y="688.0" width="70.0" height="117.5" fill="url(#g33)"/>
<rect x="113.0" y="712.0" width="24.0" height="48.0" fill="url(#g34)"/>
<rect x="115.7" y="811.0" width="7.7" height="1.7" fill="#bdbdbd"/>
<rect x="114.5" y="812.8" width="10.5" height="1.3" fill="#b8b8b8"/>
<rect x="113.2" y="814.2" width="11.9" height="1.7" fill="#bcbcbc"/>
<rect x="112.1" y="816.0" width="14.2" height="1.3" fill="#c1c1c1"/>
<rect x="113.2" y="817.5" width="15.5" height="1.6" fill="#c3c3c3"/>
<rect x="114.1" y="819.0" width="13.5" height="2.2" fill="#cdcdcd"/>
<rect x="113.8" y="820.9" width="15.1" height="1.8" fill="#d3d3d3"/>
<rect x="112.5" y="822.8" width="15.8" height="1.4" fill="#d9d9d9"/>
<rect x="115.0" y="824.4" width="13.4" height="1.6" fill="#dfdfdf"/>
<rect x="115.7" y="826.2" width="10.7" height="2.1" fill="#d2d2d2"/>
<rect x="114.5" y="828.6" width="13.1" height="1.5" fill="#dcdcdc"/>
<rect x="76.0" y="841.0" width="14.9" height="2.1" fill="#a3a3a3"/>
<rect x="76.4" y="842.8" width="14.0" height="1.7" fill="#a8a8a8"/>
<rect x="75.3" y="844.6" width="16.2" height="1.8" fill="#a9a9a9"/>
<rect x="75.7" y="846.6" width="15.1" height="2.0" fill="#a7a7a7"/>
<rect x="76.4" y="848.5" width="14.2" height="1.3" fill="#a4a4a4"/>
</g></g>
<rect x="44.5" y="694.5" width="125" height="160" fill="none" stroke="#262626" stroke-width="1"/>
<line x1="45.0" y1="694" x2="45.0" y2="696.5" stroke="#262626" stroke-width="1"/>
<line x1="45.0" y1="855" x2="45.0" y2="852.5" stroke="#262626" stroke-width="1"/>
<line x1="60.5" y1="694" x2="60.5" y2="696.5" stroke="#262626" stroke-width="1"/>
<line x1="60.5" y1="855" x2="60.5" y2="852.5" stroke="#262626" stroke-width="1"/>
<line x1="76.0" y1="694" x2="76.0" y2="696.5" stroke="#262626" stroke-width="1"/>
<line x1="76.0" y1="855" x2="76.0" y2="852.5" stroke="#262626" stroke-width="1"/>
<line x1="91.5" y1="694" x2="91.5" y2="696.5" stroke="#262626" stroke-width="1"/>
<line x1="91.5" y1="855" x2="91.5" y2="852.5" stroke="#262626" stroke-width="1"/>
<line x1="107.0" y1="694" x2="107.0" y2="696.5" stroke="#262626" stroke-width="1"/>
<line x1="107.0" y1="855" x2="107.0" y2="852.5" stroke="#262626" stroke-width="1"/>
<line x1="122.5" y1="694" x2="122.5" y2="696.5" stroke="#262626" stroke-width="1"/>
<line x1="122.5" y1="855" x2="122.5" y2="852.5" stroke="#262626" stroke-width="1"/>
<line x1="138.0" y1="694" x2="138.0" y2="696.5" stroke="#262626" stroke-width="1"/>
<line x1="138.0" y1="855" x2="138.0" y2="852.5" stroke="#262626" stroke-width="1"/>
<line x1="153.5" y1="694" x2="153.5" y2="696.5" stroke="#262626" stroke-width="1"/>
<line x1="153.5" y1="855" x2="153.5" y2="852.5" stroke="#262626" stroke-width="1"/>
<line x1="169.0" y1="694" x2="169.0" y2="696.5" stroke="#262626" stroke-width="1"/>
<line x1="169.0" y1="855" x2="169.0" y2="852.5" stroke="#262626" stroke-width="1"/>
<line x1="44" y1="722.5" x2="46.5" y2="722.5" stroke="#262626" stroke-width="1"/>
<line x1="170" y1="722.5" x2="167.5" y2="722.5" stroke="#262626" stroke-width="1"/>
<line x1="44" y1="749.8" x2="46.5" y2="749.8" stroke="#262626" stroke-width="1"/>
<line x1="170" y1="749.8" x2="167.5" y2="749.8" stroke="#262626" stroke-width="1"/>
<line x1="44" y1="777.1" x2="46.5" y2="777.1" stroke="#262626" stroke-width="1"/>
<line x1="170" y1="777.1" x2="167.5" y2="777.1" stroke="#262626" stroke-width="1"/>
<line x1="44" y1="804.4" x2="46.5" y2="804.4" stroke="#262626" stroke-width="1"/>
<line x1="170" y1="804.4" x2="167.5" y2="804.4" stroke="#262626" stroke-width="1"/>
<line x1="44" y1="831.7" x2="46.5" y2="831.7" stroke="#262626" stroke-width="1"/>
<line x1="170" y1="831.7" x2="167.5" y2="831.7" stroke="#262626" stroke-width="1"/>
<rect x="105" y="694" width="4" height="161" fill="#000"/>
<line x1="44.7" y1="805.5" x2="169" y2="805.5" stroke="#000" stroke-width="3.8" stroke-dasharray="4 3.89"/>
<line x1="44.7" y1="829.5" x2="169" y2="829.5" stroke="#000" stroke-width="3.8" stroke-dasharray="4 3.89"/>
<text x="106.5" y="688.8" font-size="11.8" text-anchor="middle">Reward cue period</text>
<text x="41" y="726.8" font-size="12" text-anchor="end">200</text>
<text x="41" y="754.1" font-size="12" text-anchor="end">400</text>
<text x="41" y="781.4" font-size="12" text-anchor="end">600</text>
<text x="41" y="808.7" font-size="12" text-anchor="end">800</text>
<text x="41" y="836.0" font-size="12" text-anchor="end">1000</text>
<text x="14" y="774.0" font-size="12" text-anchor="middle" transform="rotate(-90 14 774.0)">Unit #</text>
<text x="46.5" y="866.6" font-size="12" text-anchor="middle">−2</text>
<text x="77.5" y="866.6" font-size="12" text-anchor="middle">−1</text>
<text x="108.5" y="866.6" font-size="12" text-anchor="middle">0</text>
<text x="139.5" y="866.6" font-size="12" text-anchor="middle">1</text>
<text x="170.5" y="866.6" font-size="12" text-anchor="middle">2</text>
<text x="108.0" y="883.5" font-size="12.2" text-anchor="middle">Time (s)</text>
<g clip-path="url(#c31)"><g filter="url(#hB)">
<rect x="183.0" y="688.0" width="70.2" height="112.5" fill="#8a8a8a"/>
<rect x="253.2" y="688.0" width="70.8" height="112.5" fill="#8a8a8a"/>
<rect x="183.0" y="800.5" width="70.2" height="22.7" fill="#6e6e6e"/>
<rect x="253.2" y="800.5" width="70.8" height="22.7" fill="#959595"/>
<rect x="183.0" y="823.2" width="70.2" height="36.8" fill="#939393"/>
<rect x="253.2" y="823.2" width="70.8" height="36.8" fill="url(#g11)"/>
<rect x="183.0" y="688.0" width="70.2" height="112.5" fill="url(#g23)"/>
<rect x="253.2" y="688.0" width="70.8" height="112.5" fill="url(#g13)"/>
<rect x="258.0" y="825.0" width="27.0" height="29.0" fill="url(#g35)"/>
<rect x="261.0" y="805.0" width="19.2" height="2.0" fill="#bbbbbb"/>
<rect x="260.6" y="806.7" width="18.4" height="1.9" fill="#b5b5b5"/>
<rect x="262.5" y="808.4" width="17.9" height="1.6" fill="#bfbfbf"/>
<rect x="259.6" y="809.9" width="20.5" height="1.3" fill="#bfbfbf"/>
<rect x="262.4" y="811.1" width="16.6" height="1.3" fill="#c1c1c1"/>
<rect x="260.7" y="812.4" width="18.0" height="1.7" fill="#c4c4c4"/>
<rect x="260.7" y="814.0" width="17.1" height="1.4" fill="#c0c0c0"/>
<rect x="261.4" y="815.5" width="12.2" height="1.9" fill="#c4c4c4"/>
<rect x="260.0" y="817.4" width="12.6" height="1.7" fill="#cbcbcb"/>
<rect x="261.6" y="819.1" width="10.4" height="1.3" fill="#c8c8c8"/>
<rect x="261.3" y="820.4" width="10.5" height="2.0" fill="#cfcfcf"/>
<rect x="225.2" y="850.0" width="15.4" height="1.7" fill="#bbbbbb"/>
<rect x="224.5" y="851.8" width="14.4" height="1.9" fill="#bababa"/>
<rect x="223.8" y="853.5" width="15.9" height="2.2" fill="#c2c2c2"/>
<rect x="263.3" y="838.0" width="11.2" height="1.6" fill="#464646"/>
<rect x="262.4" y="839.7" width="12.0" height="1.6" fill="#464646"/>
<rect x="263.3" y="841.5" width="11.2" height="1.6" fill="#484848"/>
<rect x="263.9" y="843.1" width="9.7" height="1.5" fill="#474747"/>
<rect x="263.5" y="844.8" width="9.2" height="1.4" fill="#494949"/>
<rect x="263.7" y="846.3" width="11.0" height="1.7" fill="#494949"/>
<rect x="263.0" y="848.0" width="12.5" height="1.5" fill="#4a4a4a"/>
<rect x="263.5" y="849.6" width="12.1" height="1.4" fill="#4a4a4a"/>
<rect x="264.3" y="850.9" width="9.7" height="1.3" fill="#404040"/>
</g></g>
<rect x="191.5" y="694.5" width="125" height="160" fill="none" stroke="#262626" stroke-width="1"/>
<line x1="191.2" y1="694" x2="191.2" y2="696.5" stroke="#262626" stroke-width="1"/>
<line x1="191.2" y1="855" x2="191.2" y2="852.5" stroke="#262626" stroke-width="1"/>
<line x1="206.7" y1="694" x2="206.7" y2="696.5" stroke="#262626" stroke-width="1"/>
<line x1="206.7" y1="855" x2="206.7" y2="852.5" stroke="#262626" stroke-width="1"/>
<line x1="222.2" y1="694" x2="222.2" y2="696.5" stroke="#262626" stroke-width="1"/>
<line x1="222.2" y1="855" x2="222.2" y2="852.5" stroke="#262626" stroke-width="1"/>
<line x1="237.7" y1="694" x2="237.7" y2="696.5" stroke="#262626" stroke-width="1"/>
<line x1="237.7" y1="855" x2="237.7" y2="852.5" stroke="#262626" stroke-width="1"/>
<line x1="253.2" y1="694" x2="253.2" y2="696.5" stroke="#262626" stroke-width="1"/>
<line x1="253.2" y1="855" x2="253.2" y2="852.5" stroke="#262626" stroke-width="1"/>
<line x1="268.7" y1="694" x2="268.7" y2="696.5" stroke="#262626" stroke-width="1"/>
<line x1="268.7" y1="855" x2="268.7" y2="852.5" stroke="#262626" stroke-width="1"/>
<line x1="284.2" y1="694" x2="284.2" y2="696.5" stroke="#262626" stroke-width="1"/>
<line x1="284.2" y1="855" x2="284.2" y2="852.5" stroke="#262626" stroke-width="1"/>
<line x1="299.7" y1="694" x2="299.7" y2="696.5" stroke="#262626" stroke-width="1"/>
<line x1="299.7" y1="855" x2="299.7" y2="852.5" stroke="#262626" stroke-width="1"/>
<line x1="315.2" y1="694" x2="315.2" y2="696.5" stroke="#262626" stroke-width="1"/>
<line x1="315.2" y1="855" x2="315.2" y2="852.5" stroke="#262626" stroke-width="1"/>
<line x1="191" y1="722.5" x2="193.5" y2="722.5" stroke="#262626" stroke-width="1"/>
<line x1="317" y1="722.5" x2="314.5" y2="722.5" stroke="#262626" stroke-width="1"/>
<line x1="191" y1="749.8" x2="193.5" y2="749.8" stroke="#262626" stroke-width="1"/>
<line x1="317" y1="749.8" x2="314.5" y2="749.8" stroke="#262626" stroke-width="1"/>
<line x1="191" y1="777.1" x2="193.5" y2="777.1" stroke="#262626" stroke-width="1"/>
<line x1="317" y1="777.1" x2="314.5" y2="777.1" stroke="#262626" stroke-width="1"/>
<line x1="191" y1="804.4" x2="193.5" y2="804.4" stroke="#262626" stroke-width="1"/>
<line x1="317" y1="804.4" x2="314.5" y2="804.4" stroke="#262626" stroke-width="1"/>
<line x1="191" y1="831.7" x2="193.5" y2="831.7" stroke="#262626" stroke-width="1"/>
<line x1="317" y1="831.7" x2="314.5" y2="831.7" stroke="#262626" stroke-width="1"/>
<rect x="251.2" y="694" width="4" height="161" fill="#000"/>
<line x1="191.7" y1="800.5" x2="316" y2="800.5" stroke="#000" stroke-width="3.8" stroke-dasharray="4 3.89"/>
<line x1="191.7" y1="823.2" x2="316" y2="823.2" stroke="#000" stroke-width="3.8" stroke-dasharray="4 3.89"/>
<text x="253.5" y="688.8" font-size="11.8" text-anchor="middle">Airpuff cue period</text>
<text x="192.7" y="866.6" font-size="12" text-anchor="middle">−2</text>
<text x="223.7" y="866.6" font-size="12" text-anchor="middle">−1</text>
<text x="254.7" y="866.6" font-size="12" text-anchor="middle">0</text>
<text x="285.7" y="866.6" font-size="12" text-anchor="middle">1</text>
<text x="316.7" y="866.6" font-size="12" text-anchor="middle">2</text>
<text x="255.0" y="883.5" font-size="12.2" text-anchor="middle">Time (s)</text>
<g clip-path="url(#c32)"><g filter="url(#hB)">
<rect x="330.0" y="688.0" width="70.0" height="113.9" fill="#8a8a8a"/>
<rect x="400.0" y="688.0" width="71.0" height="113.9" fill="#8e8e8e"/>
<rect x="330.0" y="801.9" width="70.0" height="28.8" fill="#6c6c6c"/>
<rect x="400.0" y="801.9" width="71.0" height="28.8" fill="#979797"/>
<rect x="330.0" y="830.7" width="70.0" height="29.3" fill="#959595"/>
<rect x="400.0" y="830.7" width="71.0" height="29.3" fill="#737373"/>
<rect x="330.0" y="688.0" width="70.0" height="113.9" fill="url(#g13)"/>
<rect x="400.0" y="688.0" width="71.0" height="113.9" fill="url(#g4)"/>
<rect x="416.2" y="812.0" width="18.3" height="1.9" fill="#a5a5a5"/>
<rect x="415.4" y="814.2" width="20.8" height="1.3" fill="#b1b1b1"/>
<rect x="415.7" y="815.5" width="22.7" height="1.5" fill="#afafaf"/>
<rect x="413.7" y="816.9" width="24.5" height="1.3" fill="#b3b3b3"/>
<rect x="414.7" y="818.1" width="27.2" height="2.1" fill="#bababa"/>
<rect x="414.0" y="820.2" width="28.8" height="1.7" fill="#bcbcbc"/>
<rect x="413.2" y="822.0" width="25.3" height="1.5" fill="#bababa"/>
<rect x="412.0" y="823.7" width="28.5" height="1.7" fill="#bfbfbf"/>
<rect x="415.8" y="825.5" width="24.8" height="2.1" fill="#bebebe"/>
<rect x="416.6" y="827.4" width="20.9" height="1.4" fill="#c5c5c5"/>
<rect x="414.1" y="829.0" width="23.1" height="1.3" fill="#bdbdbd"/>
<rect x="414.4" y="804.0" width="10.4" height="1.8" fill="#a8a8a8"/>
<rect x="415.8" y="805.9" width="9.3" height="1.8" fill="#a5a5a5"/>
<rect x="362.3" y="843.0" width="14.9" height="1.2" fill="#a1a1a1"/>
<rect x="363.1" y="844.4" width="12.2" height="1.6" fill="#a2a2a2"/>
<rect x="367.6" y="850.0" width="16.3" height="1.8" fill="#a6a6a6"/>
<rect x="368.4" y="851.7" width="15.1" height="1.5" fill="#a3a3a3"/>
<rect x="368.5" y="853.4" width="16.6" height="1.7" fill="#a5a5a5"/>
</g></g>
<rect x="338.5" y="694.5" width="125" height="160" fill="none" stroke="#262626" stroke-width="1"/>
<line x1="338.0" y1="694" x2="338.0" y2="696.5" stroke="#262626" stroke-width="1"/>
<line x1="338.0" y1="855" x2="338.0" y2="852.5" stroke="#262626" stroke-width="1"/>
<line x1="353.5" y1="694" x2="353.5" y2="696.5" stroke="#262626" stroke-width="1"/>
<line x1="353.5" y1="855" x2="353.5" y2="852.5" stroke="#262626" stroke-width="1"/>
<line x1="369.0" y1="694" x2="369.0" y2="696.5" stroke="#262626" stroke-width="1"/>
<line x1="369.0" y1="855" x2="369.0" y2="852.5" stroke="#262626" stroke-width="1"/>
<line x1="384.5" y1="694" x2="384.5" y2="696.5" stroke="#262626" stroke-width="1"/>
<line x1="384.5" y1="855" x2="384.5" y2="852.5" stroke="#262626" stroke-width="1"/>
<line x1="400.0" y1="694" x2="400.0" y2="696.5" stroke="#262626" stroke-width="1"/>
<line x1="400.0" y1="855" x2="400.0" y2="852.5" stroke="#262626" stroke-width="1"/>
<line x1="415.5" y1="694" x2="415.5" y2="696.5" stroke="#262626" stroke-width="1"/>
<line x1="415.5" y1="855" x2="415.5" y2="852.5" stroke="#262626" stroke-width="1"/>
<line x1="431.0" y1="694" x2="431.0" y2="696.5" stroke="#262626" stroke-width="1"/>
<line x1="431.0" y1="855" x2="431.0" y2="852.5" stroke="#262626" stroke-width="1"/>
<line x1="446.5" y1="694" x2="446.5" y2="696.5" stroke="#262626" stroke-width="1"/>
<line x1="446.5" y1="855" x2="446.5" y2="852.5" stroke="#262626" stroke-width="1"/>
<line x1="462.0" y1="694" x2="462.0" y2="696.5" stroke="#262626" stroke-width="1"/>
<line x1="462.0" y1="855" x2="462.0" y2="852.5" stroke="#262626" stroke-width="1"/>
<line x1="338" y1="722.5" x2="340.5" y2="722.5" stroke="#262626" stroke-width="1"/>
<line x1="464" y1="722.5" x2="461.5" y2="722.5" stroke="#262626" stroke-width="1"/>
<line x1="338" y1="749.8" x2="340.5" y2="749.8" stroke="#262626" stroke-width="1"/>
<line x1="464" y1="749.8" x2="461.5" y2="749.8" stroke="#262626" stroke-width="1"/>
<line x1="338" y1="777.1" x2="340.5" y2="777.1" stroke="#262626" stroke-width="1"/>
<line x1="464" y1="777.1" x2="461.5" y2="777.1" stroke="#262626" stroke-width="1"/>
<line x1="338" y1="804.4" x2="340.5" y2="804.4" stroke="#262626" stroke-width="1"/>
<line x1="464" y1="804.4" x2="461.5" y2="804.4" stroke="#262626" stroke-width="1"/>
<line x1="338" y1="831.7" x2="340.5" y2="831.7" stroke="#262626" stroke-width="1"/>
<line x1="464" y1="831.7" x2="461.5" y2="831.7" stroke="#262626" stroke-width="1"/>
<rect x="398" y="694" width="4" height="161" fill="#000"/>
<line x1="338.7" y1="801.9" x2="463" y2="801.9" stroke="#000" stroke-width="3.8" stroke-dasharray="4 3.89"/>
<line x1="338.7" y1="830.7" x2="463" y2="830.7" stroke="#000" stroke-width="3.8" stroke-dasharray="4 3.89"/>
<text x="400.5" y="688.8" font-size="11.8" text-anchor="middle">Pavlovian reward period</text>
<text x="339.5" y="866.6" font-size="12" text-anchor="middle">−2</text>
<text x="370.5" y="866.6" font-size="12" text-anchor="middle">−1</text>
<text x="401.5" y="866.6" font-size="12" text-anchor="middle">0</text>
<text x="432.5" y="866.6" font-size="12" text-anchor="middle">1</text>
<text x="463.5" y="866.6" font-size="12" text-anchor="middle">2</text>
<text x="402.0" y="883.5" font-size="12.2" text-anchor="middle">Time (s)</text>
<g clip-path="url(#c33)"><g filter="url(#hB)">
<rect x="477.0" y="688.0" width="70.0" height="115.3" fill="#8a8a8a"/>
<rect x="547.0" y="688.0" width="71.0" height="115.3" fill="#8e8e8e"/>
<rect x="477.0" y="803.3" width="70.0" height="28.6" fill="#6c6c6c"/>
<rect x="547.0" y="803.3" width="71.0" height="28.6" fill="#959595"/>
<rect x="477.0" y="831.9" width="70.0" height="28.1" fill="#959595"/>
<rect x="547.0" y="831.9" width="71.0" height="28.1" fill="url(#g11)"/>
<rect x="477.0" y="688.0" width="70.0" height="115.3" fill="url(#g36)"/>
<rect x="547.0" y="688.0" width="71.0" height="115.3" fill="url(#g32)"/>
<rect x="552.7" y="816.0" width="24.1" height="1.8" fill="#a4a4a4"/>
<rect x="551.3" y="818.0" width="25.1" height="1.8" fill="#aaaaaa"/>
<rect x="552.1" y="819.7" width="25.2" height="2.0" fill="#b2b2b2"/>
<rect x="549.7" y="821.6" width="28.0" height="2.0" fill="#b5b5b5"/>
<rect x="552.3" y="823.4" width="19.0" height="2.0" fill="#b9b9b9"/>
<rect x="549.3" y="825.7" width="16.5" height="1.7" fill="#b7b7b7"/>
<rect x="550.5" y="827.6" width="12.7" height="2.1" fill="#bfbfbf"/>
<rect x="549.5" y="829.9" width="8.1" height="1.4" fill="#c4c4c4"/>
<rect x="560.2" y="807.0" width="9.9" height="1.8" fill="#a6a6a6"/>
<rect x="559.6" y="808.8" width="9.5" height="1.2" fill="#a6a6a6"/>
<rect x="487.6" y="847.0" width="9.7" height="2.2" fill="#a7a7a7"/>
<rect x="486.4" y="849.4" width="10.0" height="2.1" fill="#a4a4a4"/>
<rect x="485.5" y="851.3" width="12.3" height="1.7" fill="#a7a7a7"/>
</g></g>
<rect x="485.5" y="694.5" width="125" height="160" fill="none" stroke="#262626" stroke-width="1"/>
<line x1="485.0" y1="694" x2="485.0" y2="696.5" stroke="#262626" stroke-width="1"/>
<line x1="485.0" y1="855" x2="485.0" y2="852.5" stroke="#262626" stroke-width="1"/>
<line x1="500.5" y1="694" x2="500.5" y2="696.5" stroke="#262626" stroke-width="1"/>
<line x1="500.5" y1="855" x2="500.5" y2="852.5" stroke="#262626" stroke-width="1"/>
<line x1="516.0" y1="694" x2="516.0" y2="696.5" stroke="#262626" stroke-width="1"/>
<line x1="516.0" y1="855" x2="516.0" y2="852.5" stroke="#262626" stroke-width="1"/>
<line x1="531.5" y1="694" x2="531.5" y2="696.5" stroke="#262626" stroke-width="1"/>
<line x1="531.5" y1="855" x2="531.5" y2="852.5" stroke="#262626" stroke-width="1"/>
<line x1="547.0" y1="694" x2="547.0" y2="696.5" stroke="#262626" stroke-width="1"/>
<line x1="547.0" y1="855" x2="547.0" y2="852.5" stroke="#262626" stroke-width="1"/>
<line x1="562.5" y1="694" x2="562.5" y2="696.5" stroke="#262626" stroke-width="1"/>
<line x1="562.5" y1="855" x2="562.5" y2="852.5" stroke="#262626" stroke-width="1"/>
<line x1="578.0" y1="694" x2="578.0" y2="696.5" stroke="#262626" stroke-width="1"/>
<line x1="578.0" y1="855" x2="578.0" y2="852.5" stroke="#262626" stroke-width="1"/>
<line x1="593.5" y1="694" x2="593.5" y2="696.5" stroke="#262626" stroke-width="1"/>
<line x1="593.5" y1="855" x2="593.5" y2="852.5" stroke="#262626" stroke-width="1"/>
<line x1="609.0" y1="694" x2="609.0" y2="696.5" stroke="#262626" stroke-width="1"/>
<line x1="609.0" y1="855" x2="609.0" y2="852.5" stroke="#262626" stroke-width="1"/>
<line x1="485" y1="722.5" x2="487.5" y2="722.5" stroke="#262626" stroke-width="1"/>
<line x1="611" y1="722.5" x2="608.5" y2="722.5" stroke="#262626" stroke-width="1"/>
<line x1="485" y1="749.8" x2="487.5" y2="749.8" stroke="#262626" stroke-width="1"/>
<line x1="611" y1="749.8" x2="608.5" y2="749.8" stroke="#262626" stroke-width="1"/>
<line x1="485" y1="777.1" x2="487.5" y2="777.1" stroke="#262626" stroke-width="1"/>
<line x1="611" y1="777.1" x2="608.5" y2="777.1" stroke="#262626" stroke-width="1"/>
<line x1="485" y1="804.4" x2="487.5" y2="804.4" stroke="#262626" stroke-width="1"/>
<line x1="611" y1="804.4" x2="608.5" y2="804.4" stroke="#262626" stroke-width="1"/>
<line x1="485" y1="831.7" x2="487.5" y2="831.7" stroke="#262626" stroke-width="1"/>
<line x1="611" y1="831.7" x2="608.5" y2="831.7" stroke="#262626" stroke-width="1"/>
<rect x="545" y="694" width="4" height="161" fill="#000"/>
<line x1="485.7" y1="803.3" x2="610" y2="803.3" stroke="#000" stroke-width="3.8" stroke-dasharray="4 3.89"/>
<line x1="485.7" y1="831.9" x2="610" y2="831.9" stroke="#000" stroke-width="3.8" stroke-dasharray="4 3.89"/>
<text x="547.5" y="688.8" font-size="11.8" text-anchor="middle">Pavlovian airpuff period</text>
<text x="486.5" y="866.6" font-size="12" text-anchor="middle">−2</text>
<text x="517.5" y="866.6" font-size="12" text-anchor="middle">−1</text>
<text x="548.5" y="866.6" font-size="12" text-anchor="middle">0</text>
<text x="579.5" y="866.6" font-size="12" text-anchor="middle">1</text>
<text x="610.5" y="866.6" font-size="12" text-anchor="middle">2</text>
<text x="549.0" y="883.5" font-size="12.2" text-anchor="middle">Time (s)</text>
<text x="1" y="12.2" font-size="15.8" font-weight="bold" style="fill:#000;stroke:none">Choice trials</text>
<text x="1" y="466.2" font-size="15.8" font-weight="bold" style="fill:#000;stroke:none">Pavlovian trials</text>
<text x="326.8" y="16.3" font-size="13.3" text-anchor="middle">pACC</text>
<text x="326.8" y="219.4" font-size="13.3" text-anchor="middle">cOFC</text>
<text x="326.8" y="471.3" font-size="13.3" text-anchor="middle">pACC</text>
<text x="326.8" y="674.4" font-size="13.3" text-anchor="middle">cOFC</text>
<rect x="641.5" y="86.5" width="8.5" height="260" fill="url(#jet)" stroke="#262626" stroke-width="1"/>
<line x1="647" y1="86.5" x2="650" y2="86.5" stroke="#262626" stroke-width="1"/>
<text x="653" y="90.8" font-size="12">3</text>
<line x1="647" y1="129.8" x2="650" y2="129.8" stroke="#262626" stroke-width="1"/>
<text x="653" y="134.1" font-size="12">2</text>
<line x1="647" y1="173.2" x2="650" y2="173.2" stroke="#262626" stroke-width="1"/>
<text x="653" y="177.5" font-size="12">1</text>
<line x1="647" y1="216.5" x2="650" y2="216.5" stroke="#262626" stroke-width="1"/>
<text x="653" y="220.8" font-size="12">0</text>
<line x1="647" y1="259.8" x2="650" y2="259.8" stroke="#262626" stroke-width="1"/>
<text x="653" y="264.1" font-size="12">−1</text>
<line x1="647" y1="303.2" x2="650" y2="303.2" stroke="#262626" stroke-width="1"/>
<text x="653" y="307.5" font-size="12">−2</text>
<line x1="647" y1="346.5" x2="650" y2="346.5" stroke="#262626" stroke-width="1"/>
<text x="653" y="350.8" font-size="12">−3</text>
<text x="675" y="218" font-size="12.5" text-anchor="middle" transform="rotate(90 675 218)">Firing rate (Hz)</text>
<rect x="641.5" y="541.5" width="8.5" height="260" fill="url(#jet)" stroke="#262626" stroke-width="1"/>
<line x1="647" y1="541.5" x2="650" y2="541.5" stroke="#262626" stroke-width="1"/>
<text x="653" y="545.8" font-size="12">3</text>
<line x1="647" y1="584.8" x2="650" y2="584.8" stroke="#262626" stroke-width="1"/>
<text x="653" y="589.1" font-size="12">2</text>
<line x1="647" y1="628.2" x2="650" y2="628.2" stroke="#262626" stroke-width="1"/>
<text x="653" y="632.5" font-size="12">1</text>
<line x1="647" y1="671.5" x2="650" y2="671.5" stroke="#262626" stroke-width="1"/>
<text x="653" y="675.8" font-size="12">0</text>
<line x1="647" y1="714.8" x2="650" y2="714.8" stroke="#262626" stroke-width="1"/>
<text x="653" y="719.1" font-size="12">−1</text>
<line x1="647" y1="758.2" x2="650" y2="758.2" stroke="#262626" stroke-width="1"/>
<text x="653" y="762.5" font-size="12">−2</text>
<line x1="647" y1="801.5" x2="650" y2="801.5" stroke="#262626" stroke-width="1"/>
<text x="653" y="805.8" font-size="12">−3</text>
<text x="675" y="673" font-size="12.5" text-anchor="middle" transform="rotate(90 675 673)">Firing rate (Hz)</text>
<defs>
<linearGradient id="g0" x1="0" y1="0" x2="1" y2="0"><stop offset="0" stop-color="#606060"/><stop offset="1" stop-color="#7b7b7b"/></linearGradient>
<linearGradient id="g1" x1="0" y1="0" x2="0" y2="1"><stop offset="0" stop-color="#8a8a8a"/><stop offset="1" stop-color="#848484"/></linearGradient>
<linearGradient id="g2" x1="0" y1="0" x2="0" y2="1"><stop offset="0" stop-color="#8a8a8a"/><stop offset="1" stop-color="#868686"/></linearGradient>
<linearGradient id="g3" x1="0" y1="0" x2="1" y2="0"><stop offset="0" stop-color="#5e5e5e"/><stop offset="1" stop-color="#939393"/></linearGradient>
<linearGradient id="g4" x1="0" y1="0" x2="0" y2="1"><stop offset="0" stop-color="#8e8e8e"/><stop offset="1" stop-color="#888888"/></linearGradient>
<linearGradient id="g5" x1="0" y1="0" x2="1" y2="0"><stop offset="0" stop-color="#828282"/><stop offset="1" stop-color="#6c6c6c"/></linearGradient>
<linearGradient id="g6" x1="0" y1="0" x2="0" y2="1"><stop offset="0" stop-color="#888888"/><stop offset="1" stop-color="#848484"/></linearGradient>
<linearGradient id="g7" x1="0" y1="0" x2="0" y2="1"><stop offset="0" stop-color="#8a8a8a"/><stop offset="1" stop-color="#888888"/></linearGradient>
<linearGradient id="g8" x1="0" y1="0" x2="1" y2="0"><stop offset="0" stop-color="#6c6c6c"/><stop offset="1" stop-color="#686868"/></linearGradient>
<linearGradient id="g9" x1="0" y1="0" x2="1" y2="0"><stop offset="0" stop-color="#939393"/><stop offset="1" stop-color="#999999"/></linearGradient>
<linearGradient id="g10" x1="0" y1="0" x2="0" y2="1"><stop offset="0" stop-color="#8a8a8a"/><stop offset="1" stop-color="#828282"/></linearGradient>
<linearGradient id="g11" x1="0" y1="0" x2="1" y2="0"><stop offset="0" stop-color="#666666"/><stop offset="1" stop-color="#777777"/></linearGradient>
<linearGradient id="g12" x1="0" y1="0" x2="0" y2="1"><stop offset="0" stop-color="#8e8e8e"/><stop offset="1" stop-color="#828282"/></linearGradient>
<linearGradient id="g13" x1="0" y1="0" x2="0" y2="1"><stop offset="0" stop-color="#8e8e8e"/><stop offset="1" stop-color="#7d7d7d"/></linearGradient>
<linearGradient id="g14" x1="0" y1="0" x2="1" y2="0"><stop offset="0" stop-color="#808080"/><stop offset="1" stop-color="#777777"/></linearGradient>
<linearGradient id="g15" x1="0" y1="0" x2="1" y2="0"><stop offset="0" stop-color="#717171"/><stop offset="1" stop-color="#666666"/></linearGradient>
<linearGradient id="g16" x1="0" y1="0" x2="1" y2="0"><stop offset="0" stop-color="#686868"/><stop offset="1" stop-color="#797979"/></linearGradient>
<linearGradient id="g17" x1="0" y1="0" x2="0" y2="1"><stop offset="0" stop-color="#8e8e8e"/><stop offset="1" stop-color="#848484"/></linearGradient>
<linearGradient id="g18" x1="0" y1="0" x2="1" y2="0"><stop offset="0" stop-color="#737373"/><stop offset="1" stop-color="#626262"/></linearGradient>
<linearGradient id="g19" x1="0" y1="0" x2="0" y2="1"><stop offset="0" stop-color="#8c8c8c"/><stop offset="1" stop-color="#828282"/></linearGradient>
<linearGradient id="g20" x1="0" y1="0" x2="0" y2="1"><stop offset="0" stop-color="#8c8c8c"/><stop offset="1" stop-color="#888888"/></linearGradient>
<linearGradient id="g21" x1="0" y1="0" x2="0" y2="1"><stop offset="0" stop-color="#8a8a8a"/><stop offset="1" stop-color="#7d7d7d"/></linearGradient>
<linearGradient id="g22" x1="0" y1="0" x2="1" y2="0"><stop offset="0" stop-color="#606060"/><stop offset="1" stop-color="#737373"/></linearGradient>
<linearGradient id="g23" x1="0" y1="0" x2="0" y2="1"><stop offset="0" stop-color="#8a8a8a"/><stop offset="1" stop-color="#808080"/></linearGradient>
<linearGradient id="g24" x1="0" y1="0" x2="1" y2="0"><stop offset="0" stop-color="#6c6c6c"/><stop offset="1" stop-color="#848484"/></linearGradient>
<linearGradient id="g25" x1="0" y1="0" x2="1" y2="0"><stop offset="0" stop-color="#606060"/><stop offset="1" stop-color="#777777"/></linearGradient>
<linearGradient id="g26" x1="0" y1="0" x2="0" y2="1"><stop offset="0" stop-color="#8c8c8c"/><stop offset="1" stop-color="#808080"/></linearGradient>
<linearGradient id="g27" x1="0" y1="0" x2="1" y2="0"><stop offset="0" stop-color="#717171"/><stop offset="1" stop-color="#848484"/></linearGradient>
<linearGradient id="g28" x1="0" y1="0" x2="1" y2="0"><stop offset="0" stop-color="#757575"/><stop offset="1" stop-color="#959595"/></linearGradient>
<linearGradient id="g29" x1="0" y1="0" x2="1" y2="0"><stop offset="0" stop-color="#a6a6a6"/><stop offset="1" stop-color="#959595"/></linearGradient>
<linearGradient id="g30" x1="0" y1="0" x2="1" y2="0"><stop offset="0" stop-color="#848484"/><stop offset="1" stop-color="#8c8c8c"/></linearGradient>
<linearGradient id="g31" x1="0" y1="0" x2="1" y2="0"><stop offset="0" stop-color="#686868"/><stop offset="1" stop-color="#777777"/></linearGradient>
<linearGradient id="g32" x1="0" y1="0" x2="0" y2="1"><stop offset="0" stop-color="#8e8e8e"/><stop offset="1" stop-color="#808080"/></linearGradient>
<linearGradient id="g33" x1="0" y1="0" x2="0" y2="1"><stop offset="0" stop-color="#8c8c8c"/><stop offset="1" stop-color="#848484"/></linearGradient>
<linearGradient id="g34" x1="0" y1="0" x2="1" y2="0"><stop offset="0" stop-color="#979797"/><stop offset="1" stop-color="#959595"/></linearGradient>
<linearGradient id="g35" x1="0" y1="0" x2="1" y2="0"><stop offset="0" stop-color="#5e5e5e"/><stop offset="1" stop-color="#6a6a6a"/></linearGradient>
<linearGradient id="g36" x1="0" y1="0" x2="0" y2="1"><stop offset="0" stop-color="#8c8c8c"/><stop offset="1" stop-color="#7b7b7b"/></linearGradient>
</defs>
</svg></body></html>
